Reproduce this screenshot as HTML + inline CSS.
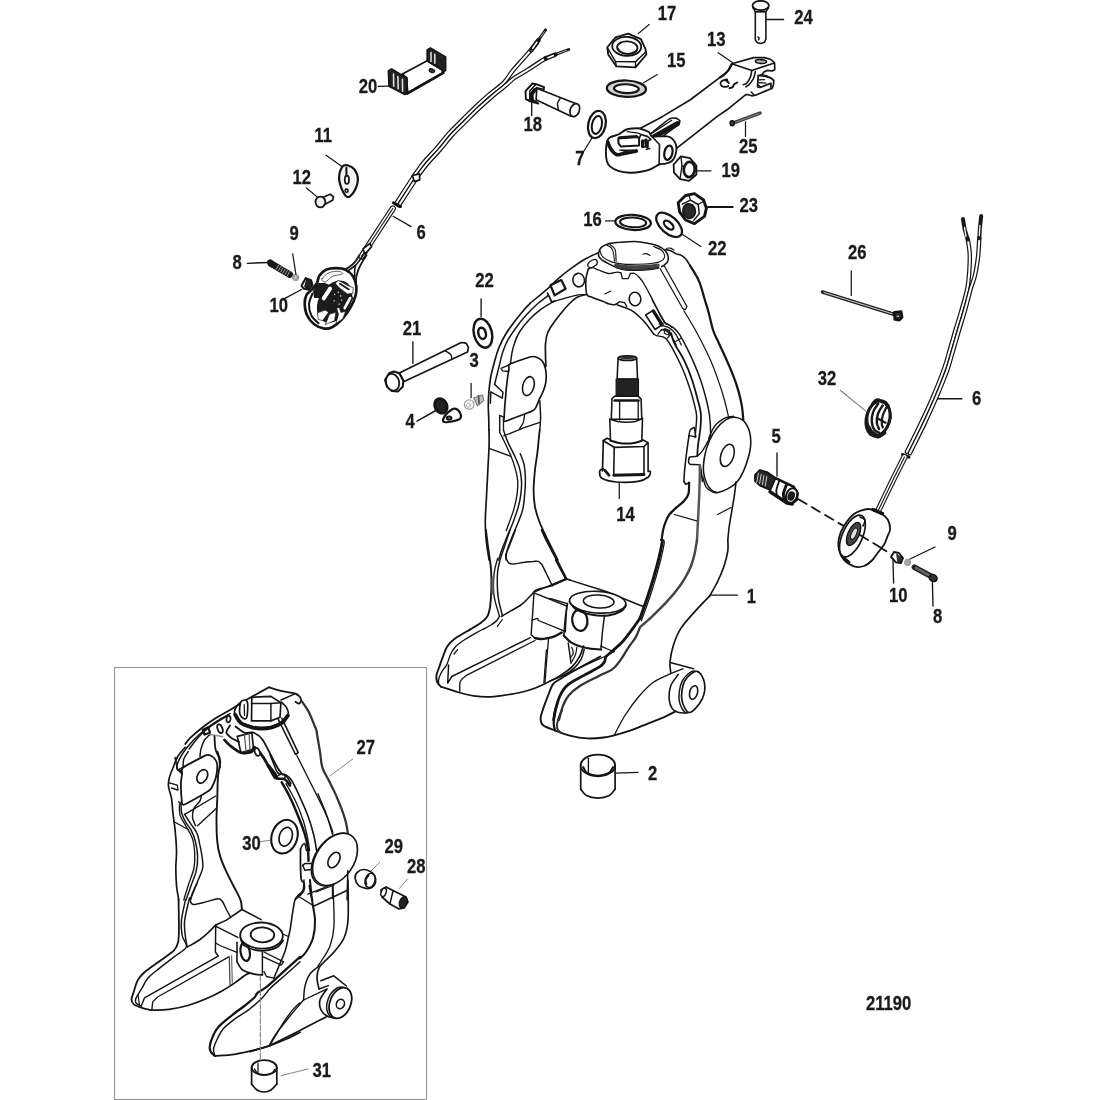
<!DOCTYPE html>
<html><head><meta charset="utf-8"><title>Gimbal Ring and Steering Lever</title>
<style>html,body{margin:0;padding:0;background:#fff}svg{display:block;will-change:transform}
text{font-family:"Liberation Sans",sans-serif;font-weight:bold;fill:#1a1a1a;stroke:#1a1a1a;stroke-width:.3px}
path,ellipse,line{stroke-linecap:round;stroke-linejoin:round}</style></head>
<body><svg width="1100" height="1100" viewBox="0 0 1100 1100">
<rect width="1100" height="1100" fill="#fff"/>
<!-- p10_ring_top.py -->
<path d="M598.4 253.2C598.8 252.2 599.6 248.9 601.3 247.4C603 245.8 605.4 244.6 608.5 243.7C611.7 242.9 615.8 242.6 620.2 242.3C624.5 241.9 630.4 241.4 634.7 241.5C639.1 241.7 642.5 242.3 646.4 243C650.2 243.7 654.8 244.6 658 245.9C661.2 247.2 663.6 248.9 665.3 250.7C667 252.5 667.8 255 668.2 256.8C668.5 258.7 668.1 260.6 667.5 261.9C666.8 263.2 665.5 264 664.5 264.8C663.6 265.6 662.1 266.4 661.6 266.7" fill="#fff" stroke="#141414" stroke-width="1.57"/>
<path d="M598.4 253.2C598.5 253.8 598.4 255.6 599.1 256.8C599.8 258 601 259.2 602.7 260.5C604.4 261.7 606.8 262.9 609.3 264.1C611.7 265.3 614.5 266.8 617.3 267.7C620.1 268.7 622.6 269.5 626 269.9C629.4 270.3 633.8 270.3 637.6 270.2C641.5 270.1 645.8 269.9 649.3 269.5C652.8 269.1 657.2 268.1 658.7 267.9" fill="none" stroke="#141414" stroke-width="1.57"/>
<path d="M600.1 251C600.5 252 600.8 255 602.7 256.8C604.6 258.6 608.1 260.7 611.5 261.9C614.8 263.1 618.7 263.7 623.1 264.1C627.5 264.5 633 264.3 637.6 264.2C642.2 264.1 647.2 263.9 650.7 263.5C654.2 263.1 656.7 262.7 658.7 262.1C660.8 261.4 662.1 260.8 663.1 259.7C664.1 258.6 664.8 256.9 664.5 255.4C664.3 253.8 663.5 251.7 661.6 250.3C659.8 248.8 655 247.2 653.6 246.6" fill="none" stroke="#141414" stroke-width="1.12"/>
<path d="M607.1 245.2C607.8 245.7 610.4 246.6 611.5 248.1C612.5 249.5 613.2 251.8 613.6 253.9C614.1 256 614.2 259.7 614.4 260.9" fill="none" stroke="#141414" stroke-width="1.12"/>
<path d="M609.7 244.3C610.6 245.2 614 246.7 615.1 249.5C616.2 252.4 615.9 259.5 616.1 261.5" fill="none" stroke="#141414" stroke-width="1.12"/>
<path d="M615.8 265.3C617.5 265.5 622.4 266.4 626 266.7C629.6 267 633.8 267 637.6 267C641.5 267 645.9 266.7 649.3 266.4C652.7 266.1 656.5 265.4 658 265.3" fill="none" stroke="#444" stroke-width="3.58"/>
<path d="M617.3 267.9C618.7 268.1 622.6 268.8 626 269C629.4 269.3 633.8 269.4 637.6 269.3C641.5 269.3 645.9 269 649.3 268.7C652.7 268.5 656.5 267.8 658 267.6" fill="none" stroke="#333" stroke-width="1.79"/>
<path d="M642.7 254.2C643.3 254.1 645.2 253.4 646.4 253.6C647.6 253.8 649.4 255.1 650 255.4" fill="none" stroke="#141414" stroke-width="1.12"/>
<path d="M665.3 249.5C666.4 249.8 670.1 250.6 671.8 251.3C673.5 252 673.9 252.9 675.5 253.6C677 254.3 679.5 254.3 681.3 255.4C683.1 256.4 684.9 258 686.4 259.7C687.8 261.4 689.4 264.6 690 265.5" fill="none" stroke="#141414" stroke-width="1.57"/>
<path d="M666.7 248.4C667.3 248.3 669.2 247.8 670.4 248.1C671.6 248.4 673.4 249.8 674 250.1" fill="none" stroke="#141414" stroke-width="1.12"/>
<path d="M660.2 268.7 L682.7 308.5" fill="none" stroke="#141414" stroke-width="1.23"/>
<path d="M664.5 266.3 L686.8 306.3" fill="none" stroke="#141414" stroke-width="1.23"/>
<path d="M682.7 308.5C683.2 308.6 684.7 309.8 685.3 309.5C686 309.1 686.6 306.8 686.8 306.3" fill="none" stroke="#141414" stroke-width="1.23"/>
<path d="M598.4 252.7C596.2 253.8 589.6 256.5 585.3 259C580.9 261.5 576.5 264.6 572.2 267.7C567.8 270.9 563.2 274.4 559.1 277.9C555 281.4 552.3 284.6 547.5 288.8C542.6 293.1 532.9 300.9 530 303.4" fill="none" stroke="#141414" stroke-width="1.57"/>
<path d="M551.8 302.2C555.5 301.1 567.9 297.1 573.6 295.8C579.3 294.5 583.9 294.8 586 294.6" fill="none" stroke="#141414" stroke-width="1.34"/>
<path d="M550.4 285.2 L561.3 280.1 L565.6 288.8 L554.7 295.4Z" fill="none" stroke="#141414" stroke-width="2.24"/>
<path d="M547.5 293.2 L551.8 302.2 L554.7 301.2" fill="none" stroke="#141414" stroke-width="1.79"/>
<ellipse cx="578.7" cy="280.1" rx="5.8" ry="6.8" transform="rotate(-8 578.7 280.1)" fill="#fff" stroke="#141414" stroke-width="1.57"/>
<ellipse cx="635" cy="299" rx="5.8" ry="6.8" transform="rotate(-8 635 299)" fill="#fff" stroke="#141414" stroke-width="1.57"/>
<path d="M588.2 269.2C588.9 268.9 590.8 267.6 592.5 267.7C594.2 267.8 595.7 268.9 598.4 269.9C601 270.9 605.4 273.2 608.5 273.5C611.7 273.9 615.2 272.2 617.3 272.1C619.3 272 620.3 272.7 620.9 272.8" fill="none" stroke="#141414" stroke-width="1.34"/>
<path d="M620.9 272.8 L622.4 278.6 L628.2 278.6 L630.4 273.5" fill="none" stroke="#141414" stroke-width="1.34"/>
<path d="M630.4 273.5C631.1 273.5 633.3 272.9 634.7 273.5C636.2 274.2 637.6 275.6 639.1 277.2C640.5 278.8 641.5 279.8 643.5 283C645.4 286.2 648.5 292 650.7 296.1C652.9 300.2 654.7 304.1 656.5 307.7C658.4 311.4 660.1 315.2 661.6 317.9C663.2 320.6 665.3 322.8 666 323.7" fill="none" stroke="#141414" stroke-width="1.34"/>
<path d="M588.2 269.2C587.8 270.8 586.4 275.1 586 278.6C585.6 282.2 585.8 287.5 586 290.3C586.2 293.1 586.4 294.2 587.5 295.4C588.5 296.6 590 296.6 592.5 297.5C595.1 298.5 599.9 300.1 602.7 301.2C605.5 302.3 607.3 303.5 609.3 304.1C611.2 304.7 613 304.9 614.4 304.8C615.7 304.7 616.8 303.6 617.3 303.4" fill="none" stroke="#141414" stroke-width="1.57"/>
<path d="M617.3 303.4 L619.5 301.6 L624.5 302.6 L626.7 306.3" fill="none" stroke="#141414" stroke-width="1.34"/>
<path d="M617.3 305.1C619.7 306 627.5 308 631.8 310.6C636.2 313.3 639.8 316.9 643.5 320.8C647.1 324.7 651.9 331.7 653.6 333.9" fill="none" stroke="#141414" stroke-width="1.57"/>
<path d="M588.2 263.4C588.9 262.3 591.2 260.6 592.5 260C593.9 259.4 595.5 259 596.2 259.7C596.9 260.4 597.8 262.8 596.9 264.1C596.1 265.4 592.5 267.4 591.1 267.7C589.6 268.1 588.7 267 588.2 266.3C587.7 265.5 587.5 264.4 588.2 263.4Z" fill="none" stroke="#141414" stroke-width="1.34"/>
<path d="M604.9 293.9 L610.7 291" fill="none" stroke="#141414" stroke-width="1.12"/>
<path d="M645.6 315 L652.9 310.6 L661.6 325.2 L655.1 329.5Z" fill="none" stroke="#141414" stroke-width="1.57"/>
<path d="M653.3 310.9 L662.1 324.9" fill="none" stroke="#141414" stroke-width="3.36"/>
<path d="M660.9 325.2C662.4 325.7 667.2 326.6 669.6 328.1C672.1 329.5 673.5 331.1 675.5 333.9C677.4 336.7 680.3 343.1 681.3 345" fill="none" stroke="#141414" stroke-width="1.23"/>
<path d="M661.6 329.5C662.6 329.9 665.6 330.4 667.5 331.7C669.3 333.1 671.1 335.3 672.5 337.5C674 339.8 675.6 343.7 676.2 345" fill="none" stroke="#141414" stroke-width="1.23"/>
<!-- p11_ring_right.py -->
<path d="M690 265.5C691.5 268.1 696.4 275.2 698.9 280.9C701.4 286.7 703.3 294.7 704.9 300C706.5 305.3 707.3 307.6 708.7 312.7C710.1 317.8 711.5 325.5 713.2 330.5C714.9 335.6 716.7 338.4 718.9 343.3C721.1 348.2 724.1 354.3 726.5 359.8C729 365.3 731.5 371.1 733.5 376.4C735.6 381.7 737.3 386.8 738.6 391.6C740 396.5 741 401 741.8 405.6C742.6 410.3 743.1 417.3 743.3 419.6" fill="none" stroke="#141414" stroke-width="2.24"/>
<path d="M683.9 310.8C685.5 313.5 690.2 320.9 693.5 326.7C696.7 332.6 700.5 339.5 703.6 345.8C706.8 352.2 709.9 358.5 712.5 364.9C715.2 371.3 717.5 378.1 719.5 384C721.6 389.9 723.1 394.9 724.6 400.5C726.2 406.2 728 414.9 728.7 417.7" fill="none" stroke="#141414" stroke-width="1.23"/>
<path d="M653.6 333.9C654.1 334.2 654.6 334.9 656.5 335.6C658.5 336.4 662.7 335.8 665.5 338.2C668.2 340.5 670.3 344.8 673.1 349.6C675.8 354.5 679.2 361.1 682 367.5C684.8 373.8 687.5 381.5 689.6 387.8C691.8 394.2 693.6 401 694.7 405.6C695.9 410.3 696.4 412.2 696.6 415.8C696.8 419.4 696.3 423.7 696 427.3C695.7 430.9 695.2 435.8 695 437.5" fill="none" stroke="#141414" stroke-width="1.46"/>
<path d="M671.2 333.1C671.7 334.8 672.1 338.6 674.4 343.3C676.6 347.9 681.6 354.9 684.5 361.1C687.5 367.2 690 373.6 692.2 380.2C694.4 386.8 696.5 395 697.9 400.5C699.4 406.1 700.4 408.8 700.8 413.3C701.3 417.7 700.9 421.8 700.5 427.3C700 432.8 698.4 441.6 697.9 446.4C697.4 451.1 697.4 454.3 697.3 455.9" fill="none" stroke="#141414" stroke-width="1.79"/>
<path d="M665.5 323.5C666.7 324.2 670.8 325.6 673.1 327.4C675.4 329.2 677.1 330.9 679.5 334.4C681.8 337.9 684.5 343.3 687.1 348.4C689.6 353.5 692.4 359.4 694.7 364.9C697.1 370.4 699.2 375.7 701.1 381.5C703 387.2 704.8 393.8 706.2 399.3C707.6 404.8 708.6 409 709.4 414.5C710.1 420.1 710.6 428.3 710.6 432.4C710.6 436.4 709.6 437.7 709.4 438.7" fill="none" stroke="#141414" stroke-width="1.46"/>
<path d="M675.6 341.4 L681.4 337.9" fill="none" stroke="#141414" stroke-width="1.12"/>
<path d="M652.1 300 L664.8 322.3" fill="none" stroke="#141414" stroke-width="1.23"/>
<path d="M659.1 324.2C660.2 324 663.3 322.4 665.5 322.9C667.6 323.4 670.8 326.6 671.8 327.4" fill="none" stroke="#141414" stroke-width="1.23"/>
<path d="M657.8 334.4C658.7 333.5 660.8 329.5 662.9 329.3C665 329.1 669.8 331.6 670.5 333.1C671.3 334.6 667.9 337.3 667.4 338.2" fill="none" stroke="#141414" stroke-width="1.23"/>
<path d="M664.8 328.6 L669.9 330.5 L668.6 335 L664.2 333.3Z" fill="none" stroke="#141414" stroke-width="1.12"/>
<path d="M689 435.6C689.2 434.7 689.4 431.3 690.3 429.9C691.1 428.5 693.5 427.8 694.1 427.4" fill="none" stroke="#141414" stroke-width="1.46"/>
<path d="M694.1 427.4 L696 436.9 L689 435.6" fill="none" stroke="#141414" stroke-width="1.23"/>
<path d="M689 435.6C688.6 438.6 687.2 447.5 686.5 453.5C685.7 459.4 685 466.6 684.5 471.3C684.1 475.9 684 479.8 683.9 481.5" fill="none" stroke="#141414" stroke-width="1.57"/>
<path d="M683.9 481.5 L685.8 484.3 L689.4 482.7" fill="none" stroke="#141414" stroke-width="1.57"/>
<path d="M688.7 459.2C688.9 458.8 688.5 457.5 689.9 457C691.3 456.5 695.2 457 697.3 456C699.4 455 700.9 452.8 702.4 450.9C703.8 449 705 446.7 706.2 444.5C707.4 442.4 709.2 439.2 709.7 438.2" fill="none" stroke="#141414" stroke-width="1.46"/>
<path d="M688.7 459.2C688.7 459.7 688.5 461.5 688.7 462.4C689 463.2 688.5 463.8 690.3 464.3C692 464.7 697.4 464.2 699.2 464.9C700.9 465.7 700.3 466 700.8 468.7C701.4 471.5 702.1 479.3 702.4 481.5" fill="none" stroke="#141414" stroke-width="1.46"/>
<path d="M708.7 438.2C709.8 436.1 712.3 428.8 715.1 425.5C717.8 422.1 722.2 419.4 725.3 417.8C728.3 416.3 732.2 416.4 733.5 416.2" fill="none" stroke="#141414" stroke-width="1.34"/>
<path d="M702.7 476.4C703.3 478.1 704.3 484.2 705.9 486.8C707.6 489.4 710.8 491.2 712.8 492.1C714.8 493.1 716.8 492.6 717.6 492.7" fill="none" stroke="#141414" stroke-width="1.34"/>
<path d="M734.8 417.2C737.8 417.6 741.8 418.3 744.4 421.6C747 424.9 749.8 431 750.5 436.9C751.2 442.8 750.6 449.8 748.4 457.3C746.3 464.7 742.3 475.6 737.4 481.5C732.4 487.3 723.6 491.2 718.9 492.3C714.2 493.3 711.9 491.1 709.4 487.8C706.8 484.5 704.4 477.8 703.6 472.5C702.9 467.2 703.7 461.3 704.7 456C705.6 450.7 707.3 445.4 709.4 440.7C711.4 436.1 714.1 431.6 717 428C719.9 424.4 723.6 421.1 726.5 419.3C729.5 417.5 731.8 416.8 734.8 417.2Z" fill="#fff" stroke="#141414" stroke-width="1.57"/>
<ellipse cx="727.3" cy="455.4" rx="6.4" ry="11.5" transform="rotate(18 727.3 455.4)" fill="#fff" stroke="#141414" stroke-width="1.57"/>
<path d="M699.8 464.9C699.8 466.8 699.9 471.3 699.8 476.4C699.7 481.5 699.4 489.1 699.2 495.5C698.9 501.8 698.7 507.1 698.3 514.5C697.9 522 697.2 535.8 697 540" fill="none" stroke="#555" stroke-width="2.46"/>
<path d="M689.1 482.7C689 484.6 689.3 491 688.4 494.2C687.4 497.4 685.4 499.5 683.3 501.8C681.2 504.2 678 506.1 675.6 508.2C673.3 510.3 671 512.2 669.3 514.5C667.6 516.9 666.5 519.4 665.5 522.2C664.4 524.9 663.5 528.1 662.9 531.1C662.3 534.1 661.8 538.5 661.6 540" fill="none" stroke="#141414" stroke-width="2.24"/>
<path d="M687.3 497.4C685.8 498.8 680.9 503.2 678.2 505.9C675.5 508.6 672.3 512.3 671.2 513.5" fill="none" stroke="#141414" stroke-width="1.12"/>
<path d="M674.4 514.5 L696.6 520.9" fill="none" stroke="#141414" stroke-width="1.23"/>
<path d="M736.1 481.7C735.8 484.2 734.9 491.7 734.2 496.7C733.4 501.8 732.5 506.9 731.6 512C730.8 517.1 729.7 522.6 729.1 527.3C728.5 531.9 728 537.9 727.8 540" fill="none" stroke="#141414" stroke-width="1.57"/>
<path d="M717.6 514.5 L731 507.5" fill="none" stroke="#141414" stroke-width="1.23"/>
<!-- p12_ring_left.py -->
<path d="M530 303.5C529.1 304.5 527.2 306.3 524.5 309.3C521.9 312.4 517.5 317.6 514.4 321.8C511.2 326 508 330.3 505.5 334.5C502.9 338.8 500.9 342.8 499.1 347.3C497.3 351.7 496 356.4 494.6 361.3C493.3 366.2 491.8 371.5 490.8 376.5C489.9 381.6 489.3 387.2 488.9 391.8C488.5 396.5 488.3 400.3 488.3 404.5C488.2 408.8 488.5 413 488.7 417.3C488.8 421.5 488.9 427.9 488.9 430" fill="none" stroke="#141414" stroke-width="1.68"/>
<path d="M548.1 295.7C546.3 297.1 541 300.7 537.3 304C533.6 307.3 529.4 311.4 525.8 315.5C522.2 319.5 518.7 323.9 515.6 328.2C512.6 332.4 509.6 336.7 507.4 340.9C505.1 345.2 503.7 349.4 502.3 353.6C500.9 357.9 500.2 362.1 499.1 366.4C498 370.6 496.7 376.1 495.9 379.1C495.2 382.1 494.8 383.3 494.6 384.2" fill="none" stroke="#141414" stroke-width="1.46"/>
<path d="M494.6 384.2 L501 390.5 L502.9 392.1 L502.3 398.2 L490.8 391.8 L490.4 403.3" fill="none" stroke="#141414" stroke-width="1.46"/>
<path d="M552.5 302.1C550.6 303.3 544.9 306.2 541.1 309.1C537.3 312 533.2 315.5 529.6 319.3C526 323.1 522 328 519.5 332C516.9 336 515.6 339.8 514.4 343.5C513.1 347.1 512.5 350.3 511.8 353.6C511.2 357 510.8 361.9 510.5 363.6" fill="none" stroke="#141414" stroke-width="1.46"/>
<path d="M585.6 294.5C584.2 295 579.5 296 576.7 297.6C574 299.2 571.8 301.2 569.1 304C566.3 306.8 562.9 310.8 560.2 314.2C557.4 317.6 554.7 321.2 552.5 324.4C550.4 327.5 548.6 330.1 547.5 333.3C546.3 336.5 545.9 339.6 545.5 343.5C545.2 347.3 545.5 352.4 545.5 356.2C545.6 360 545.9 364.7 545.9 366.4" fill="none" stroke="#141414" stroke-width="1.68"/>
<path d="M509.9 364.1C512.5 362.7 527.7 357.6 530.9 356.8C534.1 356 535.9 356.9 537.3 357.5C538.6 358 541.4 359.9 542.4 361.3C543.3 362.6 545.1 366.5 545.5 368.9C546 371.3 546.2 379 545.9 381.6C545.6 384.3 543.8 389.7 543 391.8C542.2 393.9 540 397.7 539.2 399.5C538.4 401.2 536.8 405.8 536 407.1C535.2 408.4 535.7 409.3 532.2 410.9C528.6 412.5 508.7 420.3 505.5 421.1C502.2 421.8 504.2 419.9 504.2 417.3C504.2 414.6 505.1 402.6 505.5 398.2C505.8 393.7 506.9 382.5 507.4 379.1C507.8 375.7 508.7 370.7 509 368.9C509.3 367.2 507.4 365.5 509.9 364.1Z" fill="#fff" stroke="#141414" stroke-width="1.68"/>
<path d="M509.9 364.5 L501 368.3 L502.3 370.8 L508.6 371.5" fill="none" stroke="#141414" stroke-width="1.34"/>
<ellipse cx="528.4" cy="386.1" rx="5.6" ry="9.7" transform="rotate(15 528.4 386.1)" fill="#fff" stroke="#141414" stroke-width="1.57"/>
<path d="M504.2 417.3 L499.7 415.4 L499.7 430" fill="none" stroke="#141414" stroke-width="1.46"/>
<path d="M503.5 418.8 L503.5 430" fill="none" stroke="#141414" stroke-width="1.34"/>
<path d="M524.5 415.4C524.3 416.5 524.1 420.1 523.3 422.4C522.4 424.6 520.1 427.7 519.5 428.7" fill="none" stroke="#141414" stroke-width="1.34"/>
<path d="M521.4 428.7 L539.8 422.4" fill="none" stroke="#141414" stroke-width="1.34"/>
<path d="M539.8 400.7C539.9 403.5 540.6 412.4 540.6 417.3C540.6 422.2 539.9 427.9 539.8 430" fill="none" stroke="#141414" stroke-width="1.46"/>
<!-- p13_ring_lowleft.py -->
<path d="M489 430.1C489 432.6 489.3 438.6 489.1 445.5C488.9 452.3 488.2 462.4 487.8 470.9C487.4 479.4 487 487.9 486.5 496.4C486.1 504.8 485.3 514.4 485.3 521.8C485.2 529.2 485.7 534.5 486.3 540.9C486.9 547.3 488.6 556.8 489.1 560" fill="none" stroke="#141414" stroke-width="1.68"/>
<path d="M499.7 430.1C499.7 430.5 499.3 431.2 499.9 432.7C500.5 434.2 501.3 435.3 503.1 439.1C504.9 442.9 508.7 450.8 510.7 455.6C512.7 460.5 514 464.1 515.2 468.4C516.3 472.6 517.4 476.8 517.7 481.1C518 485.3 517.7 489.2 517.1 493.8C516.5 498.5 515.2 504.4 513.9 509.1C512.6 513.8 510.7 518.2 509.5 521.8C508.2 525.4 506.8 529.2 506.3 530.7" fill="none" stroke="#141414" stroke-width="1.34"/>
<path d="M503.5 430.1C503.6 430.5 503.6 430.6 504.4 432.7C505.1 434.9 506.5 439.1 508.2 442.9C509.9 446.7 512.6 451.4 514.5 455.6C516.5 459.9 518.5 464.1 519.6 468.4C520.8 472.6 521.3 476.8 521.5 481.1C521.8 485.3 521.4 489.6 520.9 493.8C520.4 498.1 519.6 501.9 518.4 506.5C517.1 511.2 515.2 516.7 513.3 521.8C511.4 526.9 508.8 532.4 506.9 537.1C505 541.8 503.2 546 501.8 549.8C500.4 553.6 499.2 558.3 498.6 560" fill="none" stroke="#141414" stroke-width="1.46"/>
<path d="M520.3 453.7C520.9 455.5 523.2 460.4 524.1 464.5C524.9 468.7 525.3 473.7 525.4 478.5C525.5 483.4 525.2 488.7 524.7 493.8C524.3 498.9 523.9 504.4 522.8 509.1C521.8 513.8 520.2 517.2 518.4 521.8C516.6 526.5 513.9 532.2 512 537.1C510.1 542 507.9 547.3 506.9 551.1C505.9 554.9 506.2 558.5 506 560" fill="none" stroke="#141414" stroke-width="1.46"/>
<path d="M489.7 448.6 L510.7 456.3" fill="none" stroke="#141414" stroke-width="1.34"/>
<path d="M503.7 435.9 L521.4 428.8" fill="none" stroke="#141414" stroke-width="1.34"/>
<path d="M539.9 430.1C539.8 430.5 539.8 429.1 539.4 432.7C539 436.4 538.2 445.5 537.5 451.8C536.7 458.2 535.5 464.5 534.9 470.9C534.3 477.3 533.6 484.1 533.6 490C533.6 495.9 534 501.2 534.9 506.5C535.9 511.8 537.5 516.7 539.4 521.8C541.3 526.9 543.3 530.7 546.4 537.1C549.4 543.5 555.9 556.2 557.8 560" fill="none" stroke="#141414" stroke-width="1.79"/>
<path d="M485.9 530C486.3 533 487.3 541.8 488.2 548.2C489 554.5 490.4 562.1 490.9 568.2C491.4 574.2 491.4 579.5 491.4 584.5C491.4 589.5 491.2 593.9 490.9 598.2C490.6 602.4 490.2 606.8 489.5 610C488.9 613.2 488.3 615.2 486.8 617.3C485.4 619.4 483.7 620.7 480.9 622.7C478.1 624.8 471.8 628.4 470 629.5" fill="none" stroke="#141414" stroke-width="1.9"/>
<path d="M510 530C509.1 532.7 506.2 541.4 504.5 546.4C502.9 551.4 501.1 555.9 500 560C498.9 564.1 498.2 566.8 497.7 570.9C497.3 575 497.2 580.2 497.3 584.5C497.3 588.9 497.7 593.3 498.2 597.3C498.7 601.2 499.7 605.1 500.5 608.2C501.2 611.3 502.2 614.6 502.5 615.9" fill="none" stroke="#141414" stroke-width="1.46"/>
<path d="M515.5 530C514.6 532.2 510.4 543.1 509.1 546.4C507.8 549.6 506.3 552.8 505.9 554.5C505.5 556.2 505.9 557.9 506.4 559.1C506.8 560.2 508.2 562.5 509.1 563.2C509.9 563.8 510.7 564.2 512.7 564.1C514.8 564 521.8 562.6 524.5 562.3C527.3 561.9 531.8 561.5 533.6 561.4C535.5 561.2 537.1 560.9 538.2 561.4C539.3 561.8 540.8 563.2 541.8 564.5C542.8 565.9 544.5 569.9 545.5 571.8C546.4 573.8 548.2 577.3 549.1 579.1C550 580.9 551.8 584.6 552.3 585.5" fill="none" stroke="#141414" stroke-width="1.46"/>
<path d="M497.7 558.2C497.3 559.8 495.7 564.5 495 568.2C494.3 571.8 493.8 575.8 493.6 580C493.4 584.2 493.5 589.8 493.8 593.6C494.1 597.4 494.8 600 495.5 602.7C496.1 605.5 497 607.7 497.7 610C498.4 612.3 499.2 615.3 499.5 616.4" fill="none" stroke="#141414" stroke-width="1.34"/>
<path d="M492.5 577.3 L492.6 593.6" fill="none" stroke="#666" stroke-width="2.24"/>
<path d="M499.5 616.4C499 617.1 497.8 619.5 496.4 620.9C494.9 622.3 493.2 623.6 490.9 625C488.6 626.4 484.1 628.8 482.7 629.5" fill="none" stroke="#141414" stroke-width="1.46"/>
<path d="M502.3 619.5 L497.3 626.4" fill="none" stroke="#141414" stroke-width="1.23"/>
<path d="M501.4 616.4C503 615.5 507.7 612.8 510.9 610.9C514.2 609 518 607.1 520.9 605C523.8 602.9 525.9 600.5 528.2 598.2C530.5 595.9 533.5 592.5 534.5 591.4" fill="none" stroke="#141414" stroke-width="1.57"/>
<path d="M541.8 530C542.7 532 545.2 537.6 547.3 541.8C549.4 546.1 552.3 551.1 554.5 555.5C556.8 559.8 558.9 564.2 560.9 568.2C562.9 572.1 565.5 577.3 566.4 579.1" fill="none" stroke="#141414" stroke-width="2.24"/>
<path d="M566.4 579.1 L570 579.8" fill="none" stroke="#141414" stroke-width="1.46"/>
<path d="M552.3 585.6 L566.4 579.3" fill="none" stroke="#141414" stroke-width="1.46"/>
<path d="M534.5 591.4C535 591.1 534.3 590.5 537.3 589.5C540.2 588.6 549.8 586.3 552.3 585.6" fill="none" stroke="#141414" stroke-width="1.46"/>
<path d="M470 629.6C467.5 631.1 458.5 636 454.7 638.7C451 641.5 449.4 643.1 447.5 646C445.5 648.9 444.4 652.8 443.1 656.2C441.8 659.6 440.5 663.2 439.5 666.4C438.4 669.5 437 672.5 436.5 675.1C436.1 677.6 436.3 679.7 437 681.6C437.7 683.6 440.3 685.9 440.9 686.7" fill="none" stroke="#141414" stroke-width="1.9"/>
<path d="M482.7 629.6C482.1 629.8 482.4 629.4 479.5 631C476.5 632.7 468.9 636.8 464.9 639.5C460.9 642.1 457.9 644.2 455.5 646.7C453 649.3 451.8 651.7 450.4 654.7C448.9 657.8 448.1 662.2 446.7 664.9C445.4 667.6 443.6 668.5 442.4 670.7C441.1 672.9 439.7 675.8 439 678C438.4 680.2 438.5 683.1 438.4 684.1" fill="none" stroke="#141414" stroke-width="1.34"/>
<path d="M457.6 649.6 L454 654" fill="none" stroke="#141414" stroke-width="1.23"/>
<path d="M440.9 686.7C443.9 687.7 453.6 691 459.1 692.5C464.5 694.1 468.8 695.2 473.6 695.9C478.5 696.6 483.3 697 488.2 696.9C493 696.8 497.4 696.2 502.7 695.5C508.1 694.7 514.8 693.8 520.2 692.5C525.5 691.3 530.4 689.8 534.7 688.2C539.1 686.6 542 685.3 546.4 683.1C550.7 680.9 556.5 677.9 560.9 675.1C565.3 672.3 569.4 669.5 572.5 666.4C575.7 663.2 578 659.6 579.8 656.2C581.6 652.8 582.8 647.7 583.5 646" fill="none" stroke="#141414" stroke-width="1.68"/>
<path d="M448.6 664.9 L447.7 683.1 L451.8 676.5 L530.4 637.6" fill="none" stroke="#141414" stroke-width="1.46"/>
<path d="M459.8 691.4C459.9 689.8 459.2 684.3 460.3 681.6C461.3 679 465.3 676.4 466.4 675.4" fill="none" stroke="#141414" stroke-width="1.34"/>
<path d="M466.4 675.4 L535 640.5" fill="none" stroke="#141414" stroke-width="1.34"/>
<!-- p14_ring_box.py -->
<path d="M534 592.5 L532.5 615.5 L531.1 634.7 L535 638.1" fill="none" stroke="#141414" stroke-width="1.46"/>
<path d="M534 592.2 L566.7 578.4" fill="none" stroke="#141414" stroke-width="1.46"/>
<path d="M534 592.9 L566.7 606" fill="none" stroke="#141414" stroke-width="1.46"/>
<path d="M566.7 606 L565.3 631.7" fill="none" stroke="#141414" stroke-width="1.46"/>
<path d="M531.8 620.1 L537.6 618.4 L538.4 620.5 L560.9 629.7 L565.3 631.7" fill="none" stroke="#141414" stroke-width="1.34"/>
<path d="M535 638.1C535.9 638.3 538.4 639 540.5 639C542.7 639 545.4 638.6 547.8 638.1C550.2 637.7 552.8 637 555.1 636.1C557.4 635.2 560.5 633.2 561.6 632.6" fill="none" stroke="#141414" stroke-width="2.46"/>
<path d="M548.5 639 L546.4 663.5 L544.9 683.1" fill="none" stroke="#141414" stroke-width="1.34"/>
<path d="M555.8 560 L566 578.9" fill="none" stroke="#141414" stroke-width="2.02"/>
<path d="M566 578.9 L550 585.9" fill="none" stroke="#141414" stroke-width="1.46"/>
<path d="M566 578.9 L605.3 591.3 L643.1 606.5" fill="none" stroke="#141414" stroke-width="1.46"/>
<path d="M550 598.5 L567.5 603.6" fill="none" stroke="#141414" stroke-width="1.34"/>
<path d="M567.5 603.6C567.1 606.1 565.9 612.8 565.3 618.2C564.7 623.5 564.1 632.7 563.8 635.6" fill="none" stroke="#141414" stroke-width="1.57"/>
<path d="M563.8 635.6C565.2 636.8 568.1 640.8 571.8 642.9C575.6 645 581.5 646.9 586.4 648C591.2 649.1 598.5 649.2 600.9 649.5" fill="none" stroke="#141414" stroke-width="2.24"/>
<path d="M604.5 615.3C604.2 618.2 603 627 602.4 632.7C601.8 638.4 601.2 646.7 600.9 649.5" fill="none" stroke="#141414" stroke-width="1.46"/>
<ellipse cx="579.8" cy="620.4" rx="7.6" ry="10.5" transform="rotate(-8 579.8 620.4)" fill="#fff" stroke="#141414" stroke-width="2.24"/>
<path d="M569.6 601.5C570.7 602.8 572.7 607.3 576.2 609.5C579.7 611.6 585.4 613.5 590.7 614.5C596.1 615.6 603.1 616.1 608.2 615.6C613.3 615 618.3 612.9 621.3 611.2C624.2 609.5 625.2 606.4 625.9 605.4" fill="none" stroke="#141414" stroke-width="2.02"/>
<ellipse cx="597.7" cy="602.2" rx="28.2" ry="10.8" transform="rotate(4 597.7 602.2)" fill="#fff" stroke="#141414" stroke-width="1.68"/>
<ellipse cx="598.7" cy="601.5" rx="15.3" ry="6.5" transform="rotate(3 598.7 601.5)" fill="#fff" stroke="#141414" stroke-width="1.57"/>
<path d="M600.9 646.1 L607.5 649 L614 651.9" fill="none" stroke="#141414" stroke-width="1.34"/>
<path d="M568.2 642.9 L571.1 663.3" fill="none" stroke="#141414" stroke-width="1.46"/>
<path d="M571.8 647.3C572.1 648.2 573.5 651.3 573.3 653.1C573 654.8 570.8 657 570.4 657.7" fill="none" stroke="#141414" stroke-width="1.23"/>
<path d="M576.9 647.3C576.7 648.5 576.3 652.1 575.5 654.5C574.6 657 572.4 660.6 571.8 661.8" fill="none" stroke="#141414" stroke-width="1.23"/>
<path d="M584.2 649.5C583.7 651 582.8 655.9 581.3 658.9C579.7 661.9 577.5 665 574.7 667.6C571.9 670.3 568.7 672.7 564.5 674.9C560.4 677.1 552.4 680 550 681" fill="none" stroke="#141414" stroke-width="1.46"/>
<path d="M550 681 L564.5 674.9 L586.4 664.7 L606 656 L614 651.3" fill="none" stroke="#141414" stroke-width="1.34"/>
<path d="M640 618.3C638.8 620 635.8 624.5 632.9 628.4C630 632.2 626.1 637.7 622.7 641.5C619.3 645.2 615.3 648.4 612.5 650.9C609.8 653.5 607.3 654.9 606 656.7C604.7 658.5 605.6 660.1 604.5 661.8C603.5 663.5 603.2 664.5 599.5 666.9C595.7 669.3 587.3 673.3 582 676.4C576.7 679.4 571.1 681.9 567.5 685.1C563.8 688.2 562.1 691.4 560.2 695.3C558.2 699.2 556.9 704.2 555.8 708.4C554.7 712.5 554 718.1 553.6 720" fill="none" stroke="#141414" stroke-width="2.8"/>
<path d="M640 627.3C639.3 629 637.7 633.8 635.8 637.1C633.9 640.4 631 643.6 628.5 647.3C626.1 650.9 623.9 655.3 621.3 658.9C618.6 662.5 616.4 666.2 612.5 669.1C608.7 672 603.6 673.5 598 676.4C592.4 679.3 583.9 683.4 579.1 686.5C574.2 689.7 571.6 692.1 568.9 695.3C566.2 698.4 564.7 701.3 563.1 705.5C561.4 709.6 559.7 717.6 559 720" fill="none" stroke="#333" stroke-width="2.24"/>
<path d="M710 595.6C707.6 598.2 700.3 605.5 695.5 610.9C690.6 616.4 684.5 622.8 680.9 628.4C677.3 633.9 675.5 638.8 673.6 644.4C671.8 649.9 670.5 657.2 670 661.8C669.5 666.5 670.6 670.5 670.7 672.3" fill="none" stroke="#141414" stroke-width="1.68"/>
<path d="M600.4 656.5C596.8 658.5 585.9 664.2 579.1 668C572.3 671.8 563.8 676.7 559.5 679.5C555.1 682.2 554.8 681.6 552.9 684.4C551 687.1 549.6 691.7 548 695.8C546.4 699.9 544.3 705.1 543.1 708.9C541.9 712.7 540.6 716 540.6 718.7C540.6 721.5 540.8 723.4 543.1 725.3C545.4 727.2 549.9 728.4 554.5 730.2C559.2 732 565.5 734.5 570.9 735.9C576.4 737.3 581.8 738.1 587.3 738.4C592.7 738.6 599 738.1 603.6 737.5C608.3 737 610.5 736.3 615.1 735.1C619.7 733.9 626 732.1 631.5 730.2C636.9 728.3 642.4 725.8 647.8 723.6C653.3 721.5 659.5 719.1 664.2 717.1C668.8 715 673.7 712.3 675.6 711.4" fill="none" stroke="#141414" stroke-width="1.9"/>
<path d="M538.5 732.6C539.8 729.2 543.7 717.8 546.4 712.2C549 706.6 553.1 698.8 554.5 699.1C556 699.4 555 710.1 554.9 714.1C554.8 718.2 553.9 721 553.9 723.6C553.8 726.3 554.4 729.1 554.5 730.2" fill="none" stroke="none" stroke-width="0.01"/>
<path d="M534.1 740C534.5 738.1 535.2 732.4 536.5 728.5C537.9 724.7 540.1 720.4 542.3 717.1C544.5 713.8 547 711.4 549.6 708.9C552.2 706.5 556.5 703.5 557.8 702.4" fill="none" stroke="none" stroke-width="0.01"/>
<path d="M543.4 731.8C543.9 731 544.5 729.9 546.4 726.9C548.2 723.9 552.6 717.9 554.5 713.8C556.5 709.7 556.5 706.2 557.8 702.4C559.2 698.5 560.8 693.9 562.7 690.9C564.6 687.9 565.7 687.1 569.3 684.4C572.8 681.6 581.5 676.2 584 674.5" fill="none" stroke="none" stroke-width="0.01"/>
<path d="M557.8 702.4C557.3 704.3 555.2 710.3 554.5 713.8C553.9 717.4 553.7 720.9 553.7 723.6C553.8 726.4 554.7 729.4 554.9 730.5" fill="none" stroke="#141414" stroke-width="2.24"/>
<path d="M561.9 710.5C561.2 712.2 558.6 717.4 557.8 720.4C557 723.4 556.6 726.4 557.2 728.5C557.7 730.6 560.4 732.2 561.1 733" fill="none" stroke="#333" stroke-width="2.02"/>
<path d="M614.3 735.1C616 731.8 621 721.7 624.9 715.5C628.9 709.2 633.4 702.9 638 697.5C642.6 692 647.3 686.7 652.7 682.7C658.2 678.8 665.7 676 670.7 673.7C675.8 671.4 681 669.6 683 668.8" fill="none" stroke="#141414" stroke-width="1.34"/>
<path d="M671.1 662.8 L693.6 668.8" fill="none" stroke="#141414" stroke-width="1.46"/>
<path d="M678.1 674.5C676.9 676.5 672.2 681.9 670.7 686C669.2 690.1 668.8 695.3 669.1 699.1C669.4 702.9 670.9 706.7 672.4 708.9C673.9 711.1 675.9 711.5 678.1 712.2C680.3 712.9 684.2 712.9 685.5 713" fill="none" stroke="#141414" stroke-width="1.57"/>
<path d="M694.5 670.9C697.7 671.2 700.9 678 701.8 682.7C702.8 687.4 702.6 694 700.2 699.1C697.7 704.1 690.6 712.7 687.1 713C683.6 713.3 680.1 706 679.2 700.7C678.4 695.4 679.6 686.1 682.2 681.1C684.7 676.1 691.2 670.7 694.5 670.9Z" fill="#fff" stroke="#141414" stroke-width="1.46"/>
<path d="M696.9 671.3C700.2 671.5 703.6 678.1 704.4 682.7C705.3 687.4 704.6 694.1 702.1 699.1C699.7 704.1 692.9 712.4 689.5 712.5C686.2 712.6 682.7 705.1 681.9 699.9C681 694.7 682.1 685.9 684.6 681.1C687.1 676.3 693.6 671 696.9 671.3Z" fill="#fff" stroke="#141414" stroke-width="1.68"/>
<ellipse cx="693.6" cy="692.5" rx="3.9" ry="6.9" transform="rotate(15 693.6 692.5)" fill="#fff" stroke="#141414" stroke-width="1.57"/>
<path d="M546.4 650 L543.9 682.7" fill="none" stroke="#141414" stroke-width="1.34"/>
<!-- p15_ring_rightlow.py -->
<path d="M661.6 540C661.7 540.3 662.7 539.1 662.3 542C661.8 544.9 660.5 551.5 659.1 557.3C657.7 563 655.9 569.8 654 576.4C652.1 582.9 650 589.7 647.6 596.7C645.3 603.7 641.3 614.8 640 618.4" fill="none" stroke="#141414" stroke-width="3.02"/>
<path d="M663.7 540C663.8 540.5 664.6 540.2 664.2 543.3C663.7 546.4 662.4 552.8 661 558.5C659.6 564.3 657.8 571.1 655.9 577.6C654 584.2 652 590.8 649.5 598C647.1 605.2 642.7 617.1 641.3 620.9" fill="none" stroke="#141414" stroke-width="1.23"/>
<path d="M697 540C696.6 542.2 695.7 549.1 694.7 553.5C693.7 557.8 692.6 561.9 690.9 566.2C689.2 570.4 687.1 574.7 684.5 578.9C682 583.2 678.8 587.6 675.6 591.6C672.5 595.7 669.3 599.1 665.5 603.1C661.6 607.1 657 611.8 652.7 615.8C648.5 619.8 642.1 625.4 640 627.3" fill="none" stroke="#444" stroke-width="2.46"/>
<path d="M727.8 540C727.8 541.8 728.5 546.5 727.8 550.9C727.2 555.3 725.7 561.1 724 566.2C722.3 571.3 720 576.6 717.6 581.5C715.3 586.3 711.3 593.1 710 595.5" fill="none" stroke="#141414" stroke-width="1.68"/>
<line x1="711.3" y1="595.2" x2="737.4" y2="595.2" stroke="#141414" stroke-width="1.34"/>
<!-- p20_part14.py -->
<path d="M618.1 358.2 L617.1 379 L637.5 379 L636.7 358.2Z" fill="#fff" stroke="#141414" stroke-width="1.57"/>
<ellipse cx="627.4" cy="358.2" rx="9.3" ry="2.3" fill="#fff" stroke="#141414" stroke-width="1.68"/>
<ellipse cx="627.4" cy="358" rx="7" ry="1.2" fill="#333" stroke="#141414" stroke-width="0.56"/>
<path d="M616.1 379 L638.5 379 L638.5 396.4 L616.1 396.4Z" fill="#222" stroke="#141414" stroke-width="1.12"/>
<path d="M612 398.5 L614.9 396.1 L638.2 396.1 L641.1 399.1 L641.8 419.3 L611.3 419.3Z" fill="#fff" stroke="#141414" stroke-width="1.57"/>
<path d="M614.6 400.5 L638.5 400.5" fill="none" stroke="#141414" stroke-width="2.69"/>
<path d="M619.6 401.1 L619.6 420" fill="none" stroke="#141414" stroke-width="1.34"/>
<path d="M638.2 401.1 L638.2 419.7" fill="none" stroke="#141414" stroke-width="1.34"/>
<path d="M609.8 419.3C611.2 419.6 615 420.9 617.8 421.5C620.6 422 623.6 422.3 626.5 422.3C629.5 422.3 632.6 422.1 635.3 421.5C637.9 420.8 641.3 419 642.5 418.5" fill="none" stroke="#141414" stroke-width="1.57"/>
<path d="M609.8 419.3 L610.5 440.7" fill="none" stroke="#141414" stroke-width="1.57"/>
<path d="M642.5 418.5 L641.8 440.7" fill="none" stroke="#141414" stroke-width="1.57"/>
<path d="M610.5 440.7C611.8 441 615.2 442.2 617.8 442.7C620.5 443.2 623.6 443.6 626.5 443.6C629.5 443.6 632.7 443.2 635.3 442.7C637.8 442.2 640.7 441 641.8 440.7" fill="none" stroke="#141414" stroke-width="2.02"/>
<path d="M610.5 439.8 L606.9 438.3 L603.3 440.7 L614.2 447.3 L644 446.5 L648.1 442.7 L642.5 439.8" fill="none" stroke="#141414" stroke-width="1.68"/>
<path d="M603.3 440.7 L602.5 470.9" fill="none" stroke="#141414" stroke-width="1.68"/>
<path d="M614.2 447.6 L613.7 475.3" fill="none" stroke="#141414" stroke-width="1.57"/>
<path d="M644 446.9 L644 474.5" fill="none" stroke="#141414" stroke-width="1.57"/>
<path d="M648.1 443.3 L648.1 471.6" fill="none" stroke="#141414" stroke-width="1.57"/>
<path d="M613.7 475.3 L644 474.5" fill="none" stroke="#141414" stroke-width="2.91"/>
<path d="M603.3 468.9C602.9 469 601.7 469 601.1 469.5C600.5 469.9 599.5 470.2 599.6 471.6C599.8 473.1 599 476.5 601.8 478.2C604.6 479.9 610.3 481.4 616.4 482C622.4 482.5 632.8 482.2 638.2 481.4C643.5 480.6 646.3 478.6 648.4 477C650.4 475.4 650.5 472.8 650.5 471.8C650.5 470.8 648.7 471.1 648.4 470.9" fill="none" stroke="#141414" stroke-width="1.68"/>
<path d="M604.7 470.2 L609.1 475.3" fill="none" stroke="#141414" stroke-width="2.69"/>
<line x1="619.3" y1="483.3" x2="619.3" y2="498.5" stroke="#141414" stroke-width="1.23"/>
<!-- p21_part2.py -->
<path d="M580.7 765.4 L580.7 789.1" fill="none" stroke="#141414" stroke-width="1.68"/>
<path d="M615.1 765.4 L615.1 789.1" fill="none" stroke="#141414" stroke-width="1.68"/>
<path d="M580.7 789.1C581.7 790.2 583.6 794.1 586.5 795.6C589.3 797.1 594.1 798.1 597.9 798.1C601.7 798.1 606.5 797.1 609.4 795.6C612.2 794.1 614.1 790.2 615.1 789.1" fill="none" stroke="#141414" stroke-width="1.68"/>
<ellipse cx="597.9" cy="765.4" rx="17.2" ry="10.8" fill="#fff" stroke="#141414" stroke-width="1.9"/>
<path d="M583.2 767C583.9 768 584.8 771.6 587.3 773.1C589.7 774.5 594.4 775.7 597.9 775.7C601.5 775.7 606 774.5 608.5 773.1C611.1 771.6 612.4 768 613.1 767" fill="none" stroke="#141414" stroke-width="2.02"/>
<path d="M588.4 758.3 L588.4 773.1" fill="none" stroke="#141414" stroke-width="1.34"/>
<line x1="615.9" y1="773.1" x2="638" y2="772.4" stroke="#141414" stroke-width="1.34"/>
<!-- p30_lever.py -->
<path d="M675.5 149.1 L691.8 136.4 L717.3 116.4 L727 109.8 L745.5 94.9 L747.4 94.5 L751.8 95.8 L755.6 95.2 L772.2 88.2 L773.5 84.4 L773.8 80.5 L770.9 78 L764.5 76.1 L758.2 75.5 L762 74.8 L763.9 72 L767.1 70.4 L772.2 71 L774.7 69.7 L774.7 65.3 L774.4 62.7 L770.9 59.5 L764.5 57.6 L753.7 57.6 L731.8 63.7 L728.3 70.4 L723.8 74.8 L720 77.4 L690 100 L662.7 116.4 L639.1 129.1" fill="#fff" stroke="#141414" stroke-width="1.68"/>
<path d="M731.8 63.7 L751.8 70.4 L774.4 63" fill="none" stroke="#141414" stroke-width="1.57"/>
<path d="M731.8 64.3C731.2 65.3 729.6 68.6 728.3 70.4C726.9 72.1 725.2 73.7 723.8 74.8C722.4 76 720.6 76.9 720 77.4" fill="none" stroke="#141414" stroke-width="2.24"/>
<path d="M751.8 70.4C751.6 71.4 751.4 74.6 750.5 76.7C749.7 78.8 747.9 81.8 746.7 83.1C745.5 84.4 743.8 84.4 743.2 84.7" fill="none" stroke="#141414" stroke-width="1.57"/>
<path d="M755.3 71.6C755.1 72.7 754.6 76 753.7 78C752.8 80 751.2 82.2 749.9 83.7C748.6 85.2 746.5 86.4 745.8 86.9" fill="none" stroke="#141414" stroke-width="1.57"/>
<ellipse cx="761" cy="61.5" rx="5.6" ry="1.9" transform="rotate(3 761 61.5)" fill="#bbb" stroke="#141414" stroke-width="1.57"/>
<path d="M758.2 75.5 L757.5 87 L760.7 87.3 L770.9 83.2 L771 88.2" fill="none" stroke="#141414" stroke-width="1.68"/>
<path d="M758.8 79.9 L764.5 79.6" fill="none" stroke="#141414" stroke-width="1.34"/>
<path d="M758.8 82.6 L765.8 83.1" fill="none" stroke="#141414" stroke-width="1.34"/>
<path d="M758.2 84.7 L760.7 87" fill="none" stroke="#141414" stroke-width="1.34"/>
<path d="M762 74.8C762.6 74.9 764.3 74.9 765.8 75.5C767.3 76 770.1 77.6 770.9 78" fill="none" stroke="#141414" stroke-width="1.34"/>
<path d="M751.2 92 L753.7 94.5" fill="none" stroke="#141414" stroke-width="1.46"/>
<path d="M728.9 83.1C728.5 82.7 727.3 81.1 726.4 80.7C725.4 80.2 724.1 80.1 723.2 80.4C722.2 80.7 721 81.6 720.6 82.5C720.3 83.3 720.5 84.9 721.3 85.6C722 86.4 723.9 86.9 725.1 86.9C726.3 87 727.7 86.1 728.3 86" fill="none" stroke="#141414" stroke-width="1.79"/>
<path d="M724.5 79.9 L727 79.3 L727.6 81.8" fill="none" stroke="#141414" stroke-width="1.79"/>
<path d="M737.2 82.5C736.7 82.8 734.7 83.6 734 84.4C733.3 85.1 733.5 86.3 732.7 86.9C732 87.5 730.1 88 729.5 88.2" fill="none" stroke="#141414" stroke-width="2.02"/>
<path d="M650.9 133.6C652.7 132.2 666.6 120.6 669.1 119.1C671.5 117.5 674.4 118 675.5 118.2C676.5 118.3 679.3 119.8 679.5 120.5C679.8 121.1 679.8 123 678.2 124.5C676.6 126.1 665.1 134.5 663.6 135.6" fill="none" stroke="#141414" stroke-width="1.68"/>
<path d="M652.3 132.9 L671.8 120.2" fill="none" stroke="#141414" stroke-width="1.23"/>
<path d="M654.5 136.5 L677.3 123.8" fill="none" stroke="#141414" stroke-width="5.15"/>
<path d="M607.3 140.9C607.8 139.1 608.5 138.1 610 137.3C611.5 136.4 616 135.6 618.2 134.5C620.4 133.5 623.7 130.4 626.4 129.5C629 128.7 636 128.2 638.2 128.2C640.4 128.2 641.3 129 642.7 129.5C644.2 130.1 647.9 131.4 649.1 132.3C650.3 133.2 650.6 135.8 651.8 136.4C653 136.9 656.1 136.4 658.2 136.4C660.2 136.4 665.3 136 667.3 136.4C669.2 136.7 671.6 138 672.7 139.1C673.9 140.2 675.4 143.1 675.9 144.5C676.4 146 676.5 148.3 676.4 150C676.2 151.7 675.3 155.7 674.5 157.3C673.8 158.8 672.1 161 670.9 161.8C669.7 162.7 667 163.3 665.5 163.6C663.9 164 661 163.8 659.1 164.5C657.2 165.3 653.3 168.1 650.9 169.1C648.5 170.1 643.7 171.3 640.9 171.8C638.1 172.3 633 172.8 630 172.7C627 172.6 620.8 171.8 618.2 170.9C615.5 170.1 611.5 167.7 610 166.4C608.5 165 607.4 163 606.8 160.9C606.3 158.8 605.8 153.6 605.9 150.9C606 148.2 606.7 142.7 607.3 140.9Z" fill="#fff" stroke="#141414" stroke-width="1.9"/>
<path d="M651.8 136.5 L659.5 144.5 L659.1 164.5" fill="none" stroke="#141414" stroke-width="1.57"/>
<ellipse cx="668.4" cy="152.7" rx="4" ry="7.3" transform="rotate(12 668.4 152.7)" fill="#fff" stroke="#141414" stroke-width="2.24"/>
<path d="M618.2 138.4 L637.3 136.9 L639.1 138.4 L639.1 145.5 L620.9 146.4 L618.6 143.6Z" fill="#fff" stroke="#141414" stroke-width="2.02"/>
<path d="M619.3 137.5 L636.5 136.4" fill="none" stroke="#141414" stroke-width="2.69"/>
<path d="M639.1 138.4 L640.9 134.5 L647.3 136.4 L650.9 139.3 L648.2 141.1 L647.3 146.5 L642.7 146.9" fill="none" stroke="#141414" stroke-width="1.68"/>
<path d="M627.3 131.6 L638.2 133.2 L641.1 134.5" fill="none" stroke="#141414" stroke-width="1.34"/>
<path d="M642.7 140.9 L642.7 146.5" fill="none" stroke="#141414" stroke-width="3.36"/>
<path d="M645.9 140.2 L647.1 146.5" fill="none" stroke="#141414" stroke-width="3.58"/>
<path d="M607.7 142C608.3 143.2 609.5 147 610.9 149.1C612.3 151.2 614.4 153.8 616.4 154.5C618.3 155.3 619.4 154.4 622.7 153.8C626.1 153.2 634.1 151.5 636.4 151.1" fill="none" stroke="#141414" stroke-width="3.58"/>
<path d="M619.5 150 L636.4 150 L630 152.7Z" fill="#222" stroke="#141414" stroke-width="1.12"/>
<path d="M646.4 149.3 L649.8 148.5" fill="none" stroke="#141414" stroke-width="1.57"/>
<line x1="718.2" y1="52.7" x2="732.7" y2="62.7" stroke="#141414" stroke-width="1.23"/>
<path d="M673.6 164.5 L680.9 156.4 L690 158.2 L696.4 165.5 L696.4 174.5 L689.1 180.9 L680 179.1 L674 172.7Z" fill="#fbfbfb" stroke="#141414" stroke-width="1.79"/>
<path d="M680.9 156.4 L682 165.8 L680 179.1" fill="none" stroke="#141414" stroke-width="1.34"/>
<path d="M682 165.8 L685.5 167.3" fill="none" stroke="#141414" stroke-width="1.34"/>
<ellipse cx="689.3" cy="169.5" rx="5.5" ry="7.6" transform="rotate(5 689.3 169.5)" fill="#fff" stroke="#141414" stroke-width="2.69"/>
<line x1="697.3" y1="170.9" x2="710.9" y2="170.9" stroke="#141414" stroke-width="1.23"/>
<line x1="732.2" y1="123.3" x2="760" y2="113.1" stroke="#3a3a3a" stroke-width="3.36"/>
<line x1="735.5" y1="122.2" x2="759.1" y2="113.5" stroke="#999" stroke-width="0.9"/>
<ellipse cx="732.2" cy="123.3" rx="2" ry="2.4" fill="#444" stroke="#141414" stroke-width="1.57"/>
<line x1="745.5" y1="121.8" x2="745.5" y2="136.4" stroke="#141414" stroke-width="1.23"/>
<ellipse cx="626.4" cy="88.7" rx="19.6" ry="8.2" transform="rotate(2 626.4 88.7)" fill="#d2d2d2" stroke="#141414" stroke-width="2.24"/>
<ellipse cx="626.4" cy="88.7" rx="12.4" ry="4.4" transform="rotate(2 626.4 88.7)" fill="#fff" stroke="#141414" stroke-width="2.13"/>
<line x1="643.6" y1="82.7" x2="657.3" y2="74.5" stroke="#141414" stroke-width="1.23"/>
<!-- p31_nut17_bolt18.py -->
<path d="M607.3 47.3 L615.5 37.3 L628.2 33.6 L640.9 39.1 L645.5 49.1 L646.4 54.5 L635.5 67.3 L616.4 66.4 L608.2 54.5Z" fill="#fbfbfb" stroke="#141414" stroke-width="1.79"/>
<path d="M607.3 47.6 L615.5 61.5 L635.5 61.8 L646 51.8" fill="none" stroke="#141414" stroke-width="1.46"/>
<path d="M615.5 61.5 L616.4 66.4" fill="none" stroke="#141414" stroke-width="1.34"/>
<path d="M635.5 61.8 L635.5 67.3" fill="none" stroke="#141414" stroke-width="1.34"/>
<ellipse cx="626.7" cy="46.4" rx="14.5" ry="9.5" transform="rotate(3 626.7 46.4)" fill="#fbfbfb" stroke="#141414" stroke-width="1.79"/>
<ellipse cx="627.3" cy="47.6" rx="10.2" ry="6.2" transform="rotate(3 627.3 47.6)" fill="#fff" stroke="#141414" stroke-width="1.79"/>
<path d="M618.2 48.7C618.8 49.4 619.8 51.9 621.8 52.7C623.8 53.6 627.6 54.1 630 53.8C632.4 53.5 635.3 51.4 636.4 50.9" fill="none" stroke="#141414" stroke-width="1.34"/>
<line x1="638.2" y1="33.6" x2="649.1" y2="24.5" stroke="#141414" stroke-width="1.23"/>
<path d="M536.8 88.2 L576.1 103.8 L579 107.8 L578.3 113.6 L574.6 116.5 L571 116.2 L536.1 99.8Z" fill="#fff" stroke="#141414" stroke-width="1.68"/>
<ellipse cx="574.8" cy="110.1" rx="4.5" ry="6.7" transform="rotate(22 574.8 110.1)" fill="#fff" stroke="#141414" stroke-width="1.68"/>
<path d="M560.1 98.5C559.7 99.3 557.8 101.6 557.5 103.5C557.3 105.3 558.3 108.6 558.4 109.6" fill="none" stroke="#141414" stroke-width="1.46"/>
<path d="M525.5 91.1 L532.5 83.5 L536.1 84.2 L544.1 87.1 L543.7 89.6 L536.8 87.8 L534.3 90 L532.5 94 L532.5 99.8 L536.8 102.4 L538.3 103.6 L530.3 101.3 L525.9 99.1Z" fill="#fff" stroke="#141414" stroke-width="1.9"/>
<path d="M535.7 84.5 L529.9 90.7 L529.5 100.9" fill="none" stroke="#141414" stroke-width="1.46"/>
<path d="M534.5 90.2C534 91 531.8 93 531.4 94.7C531 96.4 532 99.6 532.2 100.5" fill="none" stroke="#141414" stroke-width="4.03"/>
<line x1="531.7" y1="102" x2="531.7" y2="115.5" stroke="#141414" stroke-width="1.34"/>
<ellipse cx="596.9" cy="124.5" rx="8.7" ry="13.8" transform="rotate(12 596.9 124.5)" fill="#fbfbfb" stroke="#141414" stroke-width="2.24"/>
<ellipse cx="596.9" cy="124.9" rx="4.9" ry="9.1" transform="rotate(12 596.9 124.9)" fill="#fff" stroke="#141414" stroke-width="2.02"/>
<line x1="591.8" y1="138.2" x2="581.8" y2="154.5" stroke="#141414" stroke-width="1.23"/>
<!-- p32_nut23_etc.py -->
<path d="M678.2 202.7 L685.5 195.5 L694.5 193.6 L703.6 200 L706.4 208.2 L704.5 216.4 L694.5 223.6 L685.5 220 L679.6 211.8Z" fill="#fbfbfb" stroke="#141414" stroke-width="2.91"/>
<path d="M682.2 204.2 L690.5 200.2 L698.2 204.5 L699.3 213.6 L693.8 220.2" fill="none" stroke="#141414" stroke-width="1.46"/>
<path d="M690.5 200.2 L689.1 195.5" fill="none" stroke="#141414" stroke-width="1.23"/>
<path d="M698.2 204.5 L704 200.9" fill="none" stroke="#141414" stroke-width="1.23"/>
<ellipse cx="689.1" cy="211.1" rx="6.2" ry="7.3" transform="rotate(-10 689.1 211.1)" fill="#2a2a2a" stroke="#141414" stroke-width="1.68"/>
<line x1="707.3" y1="206.9" x2="732.7" y2="206.9" stroke="#141414" stroke-width="2.02"/>
<ellipse cx="633.1" cy="222.4" rx="17.8" ry="7.6" transform="rotate(3 633.1 222.4)" fill="#fbfbfb" stroke="#141414" stroke-width="2.24"/>
<ellipse cx="633.1" cy="222.4" rx="13.1" ry="4.9" transform="rotate(3 633.1 222.4)" fill="#fff" stroke="#141414" stroke-width="2.02"/>
<line x1="605.5" y1="220.9" x2="615.5" y2="220.9" stroke="#141414" stroke-width="1.12" stroke-dasharray="2 1"/>
<ellipse cx="669.1" cy="224.9" rx="15.6" ry="8.4" transform="rotate(42 669.1 224.9)" fill="#fbfbfb" stroke="#141414" stroke-width="2.24"/>
<ellipse cx="668.7" cy="225.1" rx="5.8" ry="3.1" transform="rotate(42 668.7 225.1)" fill="#fff" stroke="#141414" stroke-width="2.24"/>
<line x1="681.8" y1="234" x2="700.9" y2="246.4" stroke="#141414" stroke-width="1.23"/>
<path d="M755.3 11.4 L755.3 40 L757.3 42.7 L760.9 43.5 L764.5 42.3 L765.9 39.1 L765.9 11.4Z" fill="#fff" stroke="#141414" stroke-width="1.57"/>
<path d="M752.9 7.7 L755.3 11.6 L765.9 11.6 L768.5 7.7Z" fill="#fff" stroke="#141414" stroke-width="1.57"/>
<ellipse cx="760.7" cy="5.5" rx="8.2" ry="4.7" fill="#fbfbfb" stroke="#141414" stroke-width="1.79"/>
<path d="M758 37.1C758.2 37.3 759.2 37.7 759.3 38.2C759.4 38.6 758.7 39.5 758.5 39.8" fill="none" stroke="#141414" stroke-width="1.46"/>
<line x1="766.4" y1="19.5" x2="783.6" y2="19.5" stroke="#141414" stroke-width="1.34"/>
<!-- p40_left_sensor.py -->
<path d="M402.4 74.1 L427.2 60.7 L442.5 70.3 L443.3 72.4 L407.5 92.8 L406.8 77.9Z" fill="#fff" stroke="#141414" stroke-width="1.68"/>
<path d="M407.2 93.6 L443.3 72.9" fill="none" stroke="#141414" stroke-width="2.69"/>
<path d="M388.4 70.9 L391.5 69 L406.8 77.9 L407.5 92.5 L404.9 94.5 L389 86.2Z" fill="#222" stroke="#141414" stroke-width="1.68"/>
<path d="M427.2 49.9 L430.4 48 L445.6 56.9 L445.6 70.3 L442.5 72.2 L441.8 69.6 L427.2 61Z" fill="#222" stroke="#141414" stroke-width="1.68"/>
<path d="M393.5 74.1 L393.7 86.2" fill="none" stroke="#ddd" stroke-width="1.57"/>
<path d="M397.9 76.6 L398.2 88.7" fill="none" stroke="#ddd" stroke-width="1.57"/>
<path d="M402.4 79.2 L402.6 91.3" fill="none" stroke="#ddd" stroke-width="1.57"/>
<path d="M431 52.5 L431 61.4" fill="none" stroke="#ddd" stroke-width="1.57"/>
<path d="M434.8 54.4 L434.8 63.3" fill="none" stroke="#ddd" stroke-width="1.57"/>
<ellipse cx="431.9" cy="70.7" rx="2.8" ry="1.8" transform="rotate(20 431.9 70.7)" fill="#333" stroke="#141414" stroke-width="1.12"/>
<line x1="378.2" y1="86.4" x2="388.4" y2="86.2" stroke="#141414" stroke-width="1.23"/>
<path d="M536.7 42.9C535.8 44.1 533.4 47 531 49.9C528.6 52.8 525.3 56.5 522.2 60C519.1 63.5 515.6 67.2 512.5 71C509.4 74.8 507.9 78.5 503.9 82.6C499.8 86.7 492.8 91.6 488 95.6C483.3 99.7 479.5 103.2 475.3 107.2C471 111.3 466.7 115.7 462.4 119.9C458.2 124.2 453.9 128 449.7 132.7C445.4 137.4 441.2 143.1 437 148C432.7 152.9 427.7 158 424.2 162C420.8 166.1 418.4 169.7 416.5 172.3C414.5 175 416 172.9 412.6 178.1C409.2 183.3 398.8 199.4 396 203.7" fill="none" stroke="#141414" stroke-width="4.44"/>
<path d="M536.7 42.9C535.8 44.1 533.4 47 531 49.9C528.6 52.8 525.3 56.5 522.2 60C519.1 63.5 515.6 67.2 512.5 71C509.4 74.8 507.9 78.5 503.9 82.6C499.8 86.7 492.8 91.6 488 95.6C483.3 99.7 479.5 103.2 475.3 107.2C471 111.3 466.7 115.7 462.4 119.9C458.2 124.2 453.9 128 449.7 132.7C445.4 137.4 441.2 143.1 437 148C432.7 152.9 427.7 158 424.2 162C420.8 166.1 418.4 169.7 416.5 172.3C414.5 175 416 172.9 412.6 178.1C409.2 183.3 398.8 199.4 396 203.7" fill="none" stroke="#fff" stroke-width="1.99"/>
<path d="M545.6 58.2C545 58.6 544.8 58.7 541.8 60.7C538.8 62.7 531.8 67.4 527.3 70.2C522.8 73 518.1 75.3 514.5 77.8C510.9 80.3 510 81.8 505.9 85.2C501.9 88.6 494.9 94.1 490.2 98.2C485.4 102.2 481.8 105.6 477.5 109.6C473.3 113.6 469 118.1 464.8 122.3C460.5 126.5 456.3 130.3 452.1 134.9C447.9 139.6 443.7 145.3 439.4 150.2C435.2 155.1 430.1 160.1 426.8 164.2C423.4 168.2 421 171.6 419.1 174.3C417.2 176.9 418.8 174.7 415.4 179.9C412 185.1 401.6 201.2 398.8 205.5" fill="none" stroke="#141414" stroke-width="4.44"/>
<path d="M545.6 58.2C545 58.6 544.8 58.7 541.8 60.7C538.8 62.7 531.8 67.4 527.3 70.2C522.8 73 518.1 75.3 514.5 77.8C510.9 80.3 510 81.8 505.9 85.2C501.9 88.6 494.9 94.1 490.2 98.2C485.4 102.2 481.8 105.6 477.5 109.6C473.3 113.6 469 118.1 464.8 122.3C460.5 126.5 456.3 130.3 452.1 134.9C447.9 139.6 443.7 145.3 439.4 150.2C435.2 155.1 430.1 160.1 426.8 164.2C423.4 168.2 421 171.6 419.1 174.3C417.2 176.9 418.8 174.7 415.4 179.9C412 185.1 401.6 201.2 398.8 205.5" fill="none" stroke="#fff" stroke-width="1.99"/>
<path d="M531.4 50 L538.3 40.4" fill="none" stroke="#141414" stroke-width="4.7"/>
<path d="M532.7 48.3 L537 42.1" fill="none" stroke="#fff" stroke-width="1.57"/>
<path d="M538.3 40.4 L541.8 35.3 L545.6 29.9" fill="none" stroke="#141414" stroke-width="2.91"/>
<path d="M540.5 37.2 L544.4 31.7" fill="none" stroke="#ddd" stroke-width="0.78"/>
<path d="M545.9 58.4 L555.2 54.6" fill="none" stroke="#141414" stroke-width="4.7"/>
<path d="M547.9 57.7 L553.5 55.4" fill="none" stroke="#fff" stroke-width="1.57"/>
<path d="M555.2 54.6 L562.2 51.8 L568.8 49.5" fill="none" stroke="#141414" stroke-width="2.91"/>
<path d="M557.7 53.6 L566.6 50.3" fill="none" stroke="#ddd" stroke-width="0.78"/>
<ellipse cx="531.1" cy="50.8" rx="1.3" ry="1.1" fill="#fff" stroke="#141414" stroke-width="1.34"/>
<path d="M412.4 175.5 L419.6 173.9 L419.6 180.1 L414.3 181.4Z" fill="#fff" stroke="#141414" stroke-width="1.68"/>
<path d="M393.4 202.7 L400.6 206.6" fill="none" stroke="#111" stroke-width="2.91"/>
<path d="M392.8 208.5C390.7 211.8 384.3 221.4 380 228C375.7 234.6 370.1 243.2 367 248C363.9 252.8 362.4 255.1 361.5 256.5" fill="none" stroke="#141414" stroke-width="6.27"/>
<path d="M392.8 208.5C390.7 211.8 384.3 221.4 380 228C375.7 234.6 370.1 243.2 367 248C363.9 252.8 362.4 255.1 361.5 256.5" fill="none" stroke="#fff" stroke-width="4.03"/>
<path d="M392.8 208.5C390.7 211.8 384.3 221.4 380 228C375.7 234.6 370.1 243.2 367 248C363.9 252.8 362.4 255.1 361.5 256.5" fill="none" stroke="#141414" stroke-width="1.12"/>
<path d="M363 248.8 L369.8 243.6 L371.5 246.9 L364.9 254Z" fill="#fff" stroke="#141414" stroke-width="1.68"/>
<line x1="393.1" y1="216.3" x2="411.1" y2="226.6" stroke="#141414" stroke-width="1.23"/>
<path d="M342.4 166.7C343.9 164.6 346 165.1 348.1 165.5C350.1 166 353 167.3 354.6 169.6C356.3 171.9 357.8 176.2 357.9 179.4C358 182.7 356.8 186.4 355.4 189.3C354.1 192.1 351.3 195.5 349.7 196.6C348.1 197.7 347 197.2 345.6 195.8C344.3 194.4 342.6 191.4 341.5 188.4C340.4 185.4 338.9 181.4 339.1 177.8C339.2 174.2 340.9 168.7 342.4 166.7Z" fill="#f2f2f2" stroke="#141414" stroke-width="2.24"/>
<ellipse cx="346.9" cy="179.8" rx="2.1" ry="4.1" fill="#fff" stroke="#141414" stroke-width="1.79"/>
<ellipse cx="346.6" cy="190.7" rx="1.5" ry="1.6" fill="#fff" stroke="#141414" stroke-width="1.57"/>
<path d="M346.4 167.7 L346.4 175.8" fill="none" stroke="#141414" stroke-width="2.02"/>
<line x1="326" y1="155.2" x2="342" y2="166.4" stroke="#141414" stroke-width="1.23"/>
<path d="M322.7 197.4 L330.1 194.2 L333.4 196.6 L332.9 199.9 L325.2 204.3Z" fill="#fff" stroke="#141414" stroke-width="1.68"/>
<ellipse cx="320.4" cy="202" rx="4.9" ry="5.4" fill="#f0f0f0" stroke="#141414" stroke-width="1.79"/>
<line x1="306.4" y1="188" x2="317.8" y2="197.4" stroke="#141414" stroke-width="1.23"/>
<path d="M359.5 255C358.7 256.2 356.4 260.3 354.6 262.4C352.9 264.4 350.7 266 348.9 267.3C347.1 268.6 344.8 269.7 344 270.1" fill="none" stroke="#141414" stroke-width="1.79"/>
<path d="M366.5 255C365.8 256.2 363.3 260 362 262.4C360.7 264.7 359.7 266.6 358.7 268.9C357.8 271.2 356.9 274.1 356.4 276.3C356 278.5 356 281 355.9 282" fill="none" stroke="#141414" stroke-width="1.79"/>
<path d="M363.2 255C362.4 256.2 359.7 260.2 358.3 262C357 263.7 356.9 264.1 355 265.6C353.2 267.2 348.6 270.4 347.3 271.4" fill="none" stroke="#141414" stroke-width="1.57"/>
<path d="M355.5 265.6C355.3 266.6 354.7 269.5 354.6 271.4C354.5 273.2 354.8 275.8 354.8 276.7" fill="none" stroke="#141414" stroke-width="1.57"/>
<path d="M335.8 268.1C339.1 268.1 342.8 268.4 345.6 269.7C348.5 271.1 351.2 273.5 353 276.3C354.8 279 355.9 282.8 356.3 286.1C356.7 289.4 356.4 292.4 355.5 295.9C354.5 299.5 352.7 303.5 350.5 307.4C348.4 311.2 345.4 315.5 342.4 318.8C339.4 322.1 335.5 325.4 332.5 327C329.5 328.6 327.4 329 324.4 328.6C321.4 328.2 317.4 326.7 314.5 324.5C311.7 322.4 308.8 319 307.2 315.5C305.5 312.1 304.9 307.5 304.7 304.1C304.6 300.7 305.1 297.5 306.4 295.1C307.6 292.6 310.3 291.4 312.1 289.4C313.9 287.3 315.8 285.1 317 282.8C318.2 280.5 318 277.6 319.5 275.5C321 273.3 323.3 271 326 269.7C328.7 268.5 332.5 268.1 335.8 268.1Z" fill="#fff" stroke="#141414" stroke-width="2.69"/>
<ellipse cx="334.6" cy="301.6" rx="15.1" ry="22.1" transform="rotate(30 334.6 301.6)" fill="#1c1c1c" stroke="#141414" stroke-width="1.12"/>
<path d="M312.5 293.5C311.9 295.2 309.2 300.4 309 304.1C308.8 307.8 309.8 312.3 311.4 315.5C313 318.8 317.4 322 318.6 323.3" fill="none" stroke="#141414" stroke-width="2.02"/>
<path d="M313.7 291 L317.8 283.6 L324.4 283.6 L330.9 286.1 L325.2 291.8 L319.5 297.5 L314.5 297.5Z" fill="#1c1c1c" stroke="#141414" stroke-width="1.12"/>
<path d="M321.9 278.7C322.6 277.2 326.4 273.8 329.3 272.6C332.1 271.4 336.9 271.1 339.1 271.4C341.3 271.6 343.5 273.1 342.4 274C341.3 274.8 335.4 275.1 332.5 276.4C329.7 277.8 327 281.6 325.2 282C323.4 282.4 321.2 280.3 321.9 278.7Z" fill="#fff" stroke="#141414" stroke-width="0.67"/>
<path d="M338.3 280.4 L348.9 286.1 L353.4 287.7 L352.6 293.5 L347.3 293.9 L339.1 287.7 L335.4 283.6Z" fill="#fff" stroke="#141414" stroke-width="0.67"/>
<path d="M339.9 283.8 L348.9 289.4" fill="none" stroke="#141414" stroke-width="1.79"/>
<path d="M323.7 298.4 L330.1 288.7" fill="none" stroke="#fff" stroke-width="4.03"/>
<path d="M344.7 308 L350.1 298.2" fill="none" stroke="#1c1c1c" stroke-width="5.82"/>
<path d="M344.7 308 L350.1 298.2" fill="none" stroke="#fff" stroke-width="2.69"/>
<path d="M317.8 312.7 L325.2 310 L328.5 312.3 L322.7 320.5 L318.6 319.6Z" fill="#fff" stroke="#141414" stroke-width="0.67"/>
<path d="M329.7 314.1 L335.8 312.3 L334.6 320.5 L325.6 324.5Z" fill="#fff" stroke="#141414" stroke-width="0.67"/>
<path d="M339.1 312.7 L345.6 311.5 L342.8 318.8 L336.2 323.3Z" fill="#fff" stroke="#141414" stroke-width="0.67"/>
<path d="M338.3 309 L339.9 313.9" fill="none" stroke="#fff" stroke-width="2.24"/>
<ellipse cx="334.6" cy="294.3" rx="0.6" ry="0.6" fill="#fff" stroke="#fff" stroke-width="0.11"/>
<ellipse cx="338.3" cy="292.2" rx="0.6" ry="0.6" fill="#fff" stroke="#fff" stroke-width="0.11"/>
<ellipse cx="340.7" cy="295.9" rx="0.6" ry="0.6" fill="#fff" stroke="#fff" stroke-width="0.11"/>
<ellipse cx="334.2" cy="300.8" rx="0.6" ry="0.6" fill="#fff" stroke="#fff" stroke-width="0.11"/>
<ellipse cx="339.1" cy="304.1" rx="0.6" ry="0.6" fill="#fff" stroke="#fff" stroke-width="0.11"/>
<ellipse cx="341.5" cy="300" rx="0.6" ry="0.6" fill="#fff" stroke="#fff" stroke-width="0.11"/>
<path d="M271.2 263.6 L289.8 274.6" fill="none" stroke="#1a1a1a" stroke-width="6.72"/>
<path d="M278.6 265.2 L276.3 269.2" fill="none" stroke="#aaa" stroke-width="0.9"/>
<path d="M280.8 266.5 L278.5 270.5" fill="none" stroke="#aaa" stroke-width="0.9"/>
<path d="M283 267.8 L280.7 271.9" fill="none" stroke="#aaa" stroke-width="0.9"/>
<path d="M285.2 269.1 L282.8 273.2" fill="none" stroke="#aaa" stroke-width="0.9"/>
<path d="M287.3 270.4 L285 274.5" fill="none" stroke="#aaa" stroke-width="0.9"/>
<path d="M289.5 271.7 L287.2 275.8" fill="none" stroke="#aaa" stroke-width="0.9"/>
<ellipse cx="270.6" cy="263.3" rx="2.5" ry="3.5" transform="rotate(-30 270.6 263.3)" fill="#1a1a1a" stroke="#141414" stroke-width="1.12"/>
<line x1="247.3" y1="263.3" x2="268" y2="262.5" stroke="#141414" stroke-width="1.34"/>
<ellipse cx="295.6" cy="277.5" rx="3.2" ry="3.2" fill="#aaa" stroke="#888" stroke-width="0.9"/>
<ellipse cx="295.6" cy="277.5" rx="1.2" ry="1.2" fill="#ddd" stroke="#999" stroke-width="0.56"/>
<line x1="292.7" y1="253.8" x2="295.9" y2="274.2" stroke="#141414" stroke-width="1.23"/>
<path d="M301.5 285.8 L305.8 278.1 L311.1 280.3 L312.5 285.1 L308.7 289.7 L303.5 288.4Z" fill="#fff" stroke="#141414" stroke-width="2.02"/>
<path d="M306.7 279.3 L311.3 281 L312.2 285.4 L309 289.2 L304.7 286.8Z" fill="#222" stroke="#141414" stroke-width="1.12"/>
<line x1="284" y1="298.9" x2="301.5" y2="289.5" stroke="#141414" stroke-width="1.34"/>
<!-- p41_bolt21.py -->
<path d="M399.3 372.9 L461.3 342.5 L466.1 343.2 L468.4 347.3 L467.5 352 L404.1 381.6Z" fill="#fff" stroke="#141414" stroke-width="1.68"/>
<path d="M445 350.7C445.9 351.2 449.3 352.8 450.4 354.1C451.6 355.3 451.6 357.5 451.8 358.2" fill="none" stroke="#141414" stroke-width="1.46"/>
<path d="M385 380 L389.1 373.2 L393.9 371.5 L399.3 373.2 L403.4 380.7 L402.7 386.8 L397.9 391.6 L391.8 390.9 L387 386.8Z" fill="#fbfbfb" stroke="#141414" stroke-width="2.02"/>
<ellipse cx="392.6" cy="382.2" rx="6.5" ry="8.5" transform="rotate(-15 392.6 382.2)" fill="#fff" stroke="#141414" stroke-width="1.79"/>
<line x1="412.9" y1="341.8" x2="412.9" y2="363.6" stroke="#141414" stroke-width="1.34"/>
<ellipse cx="482.9" cy="333.3" rx="9" ry="14.7" transform="rotate(-14 482.9 333.3)" fill="#fbfbfb" stroke="#141414" stroke-width="2.46"/>
<ellipse cx="482.1" cy="333.3" rx="3.7" ry="5.7" transform="rotate(-14 482.1 333.3)" fill="#fff" stroke="#141414" stroke-width="2.46"/>
<line x1="481.1" y1="298.9" x2="481.1" y2="316.6" stroke="#141414" stroke-width="1.34"/>
<path d="M473.6 398 L482.5 395 L483.8 400.4 L477.7 405.9Z" fill="#c4c4c4" stroke="#777" stroke-width="1.12"/>
<path d="M478.4 395.6 L479.1 403.1" fill="none" stroke="#555" stroke-width="1.79"/>
<ellipse cx="469.2" cy="404.5" rx="4.8" ry="4.8" fill="#f2f2f2" stroke="#999" stroke-width="1.12"/>
<ellipse cx="468.4" cy="405.3" rx="1.9" ry="1.9" fill="#fff" stroke="#aaa" stroke-width="0.9"/>
<line x1="471.1" y1="383.4" x2="471.1" y2="397.7" stroke="#141414" stroke-width="1.23"/>
<path d="M447.7 412.7C449.6 411 452.5 408.6 454.5 408.6C456.6 408.6 459.1 411 460 412.7C460.9 414.4 461.3 417.3 460 418.8C458.6 420.3 454.4 421 451.8 421.5C449.2 422.1 445.7 422.4 444.3 422C442.9 421.5 442.8 420.4 443.3 418.8C443.9 417.3 445.8 414.4 447.7 412.7Z" fill="#fff" stroke="#141414" stroke-width="2.24"/>
<ellipse cx="440.9" cy="405.9" rx="6" ry="7.6" transform="rotate(-25 440.9 405.9)" fill="#222" stroke="#141414" stroke-width="2.69"/>
<ellipse cx="449.1" cy="418.1" rx="2.2" ry="1.6" fill="#fff" stroke="#141414" stroke-width="2.24"/>
<line x1="417" y1="421.1" x2="436.8" y2="410" stroke="#141414" stroke-width="1.46"/>
<!-- p50_right.py -->
<path d="M967.8 239.5C968.1 241.8 969.5 248.2 969.7 253.5C970 258.8 969.7 265.5 969.3 271.3C968.9 277.1 968.5 282.3 967.3 288.6C966.1 294.9 963.8 302.2 961.9 309.1C960 315.9 957.7 322.8 955.7 329.5C953.7 336.3 951.9 342.9 949.9 349.5C948 356.2 946.8 361.6 943.9 369.4C941.1 377.3 936.9 387.7 933 396.9C929.1 406 924.9 415.1 920.5 424.3C916.2 433.4 909.2 447.2 906.9 451.8" fill="none" stroke="#141414" stroke-width="4.44"/>
<path d="M967.8 239.5C968.1 241.8 969.5 248.2 969.7 253.5C970 258.8 969.7 265.5 969.3 271.3C968.9 277.1 968.5 282.3 967.3 288.6C966.1 294.9 963.8 302.2 961.9 309.1C960 315.9 957.7 322.8 955.7 329.5C953.7 336.3 951.9 342.9 949.9 349.5C948 356.2 946.8 361.6 943.9 369.4C941.1 377.3 936.9 387.7 933 396.9C929.1 406 924.9 415.1 920.5 424.3C916.2 433.4 909.2 447.2 906.9 451.8" fill="none" stroke="#fff" stroke-width="1.99"/>
<path d="M979.3 238.2C979.1 241.4 978.8 251 978 257.3C977.2 263.6 976.1 270.6 974.8 276C973.5 281.4 972.1 283.8 970.5 289.4C968.9 295.1 967 303.1 965.1 309.9C963.2 316.8 960.9 323.7 958.9 330.5C956.9 337.2 955.1 343.8 953.1 350.5C951.1 357.1 949.9 362.6 947.1 370.6C944.2 378.5 939.9 389 936 398.1C932.1 407.3 927.8 416.5 923.5 425.7C919.1 434.9 912.1 448.6 909.9 453.2" fill="none" stroke="#141414" stroke-width="4.44"/>
<path d="M979.3 238.2C979.1 241.4 978.8 251 978 257.3C977.2 263.6 976.1 270.6 974.8 276C973.5 281.4 972.1 283.8 970.5 289.4C968.9 295.1 967 303.1 965.1 309.9C963.2 316.8 960.9 323.7 958.9 330.5C956.9 337.2 955.1 343.8 953.1 350.5C951.1 357.1 949.9 362.6 947.1 370.6C944.2 378.5 939.9 389 936 398.1C932.1 407.3 927.8 416.5 923.5 425.7C919.1 434.9 912.1 448.6 909.9 453.2" fill="none" stroke="#fff" stroke-width="1.99"/>
<path d="M963 219.1 L964.6 229.3 L967.8 239.5" fill="none" stroke="#1a1a1a" stroke-width="4.03"/>
<path d="M964.5 227.4 L966 236.3" fill="none" stroke="#eee" stroke-width="1.34"/>
<path d="M981.2 215.9 L979.9 228 L979.3 238.2" fill="none" stroke="#1a1a1a" stroke-width="4.03"/>
<path d="M979.9 225.5 L979.3 235.6" fill="none" stroke="#eee" stroke-width="1.34"/>
<line x1="822.4" y1="292" x2="894.5" y2="314.5" stroke="#222" stroke-width="3.47"/>
<line x1="824" y1="292.5" x2="892" y2="313.7" stroke="#e8e8e8" stroke-width="0.9"/>
<path d="M894.3 312.3 L901.1 311.7 L902.1 317.3 L899.3 320.1 L894.8 319.4Z" fill="#333" stroke="#141414" stroke-width="2.69"/>
<ellipse cx="898.1" cy="316.3" rx="1.4" ry="1.4" fill="#eee" stroke="#141414" stroke-width="0.9"/>
<line x1="851.3" y1="270.9" x2="851.3" y2="295.5" stroke="#141414" stroke-width="1.23"/>
<line x1="937.7" y1="398.7" x2="961.8" y2="398.7" stroke="#141414" stroke-width="1.46"/>
<path d="M902.4 454.4 L909 457.2" fill="none" stroke="#111" stroke-width="2.91"/>
<path d="M904.5 457C902.4 461.2 896.3 473.2 892 482C887.7 490.8 880.8 505.3 878.5 510" fill="none" stroke="#141414" stroke-width="6.27"/>
<path d="M904.5 457C902.4 461.2 896.3 473.2 892 482C887.7 490.8 880.8 505.3 878.5 510" fill="none" stroke="#fff" stroke-width="4.03"/>
<path d="M904.5 457C902.4 461.2 896.3 473.2 892 482C887.7 490.8 880.8 505.3 878.5 510" fill="none" stroke="#141414" stroke-width="1.12"/>
<ellipse cx="878" cy="418.4" rx="11.6" ry="18" transform="rotate(14 878 418.4)" fill="#fff" stroke="#1a1a1a" stroke-width="2.91"/>
<path d="M873.6 402.7C872.8 404.1 869.7 407.7 868.6 410.9C867.6 414.1 866.9 418.5 867.3 421.8C867.6 425.2 869.2 428.8 870.7 430.9C872.2 433 875.4 433.9 876.4 434.5" fill="none" stroke="#1a1a1a" stroke-width="2.46"/>
<path d="M878.2 403.6C877.3 405 874.2 408.8 873.2 411.8C872.1 414.8 871.6 418.8 871.8 421.8C872 424.8 873.3 428.2 874.5 430C875.8 431.8 878.3 432.3 879.1 432.7" fill="none" stroke="#1a1a1a" stroke-width="2.46"/>
<path d="M882.7 405.5C881.9 406.8 879 410.8 878 413.6C877 416.5 876.6 420.2 876.8 422.7C877 425.3 878.7 428 879.1 429.1" fill="none" stroke="#1a1a1a" stroke-width="2.46"/>
<path d="M886.4 407.3C885.8 408.6 883.5 412.7 882.7 415.5C882 418.2 881.8 421.7 881.8 423.6C881.8 425.6 882.6 426.7 882.7 427.3" fill="none" stroke="#1a1a1a" stroke-width="2.24"/>
<path d="M884.5 402.7C885.3 403.8 888.1 406.5 889.1 409.1C890.1 411.7 890.8 415.2 890.5 418.2C890.2 421.2 888.6 424.8 887.3 427.3C886 429.7 883.5 431.8 882.7 432.7" fill="none" stroke="#1a1a1a" stroke-width="2.46"/>
<path d="M868.2 427.3C868.8 428.2 870.2 431.2 871.8 432.7C873.5 434.2 876.1 436.2 878.2 436.2C880.2 436.2 883.1 433.3 884.1 432.7" fill="none" stroke="#1a1a1a" stroke-width="4.48"/>
<path d="M872.7 403.5C873.2 403 874.4 401 875.5 400.5C876.5 399.9 878 399.7 879.1 400C880.2 400.3 880.8 401.5 881.8 402C882.9 402.5 884.4 401.8 885.5 402.7C886.5 403.6 887.9 406.5 888.4 407.3" fill="none" stroke="#1a1a1a" stroke-width="2.91"/>
<path d="M877.3 418.2 L885.5 422.7" fill="none" stroke="#1a1a1a" stroke-width="2.24"/>
<line x1="840.5" y1="390.5" x2="865.5" y2="410.9" stroke="#777" stroke-width="1.01"/>
<path d="M770 489 L775 478 L794 487 L798 493 L797 500 L792 504 L787 503 L770 492.4Z" fill="#fff" stroke="#141414" stroke-width="1.79"/>
<path d="M755 475 L760 470 L767 472 L775.6 478 L770.4 490 L760 485.6 L755 481Z" fill="#262626" stroke="#141414" stroke-width="1.79"/>
<path d="M758.4 473 L756.8 482.4" fill="none" stroke="#ccc" stroke-width="1.01"/>
<path d="M761.2 474.2 L759.6 483.6" fill="none" stroke="#ccc" stroke-width="1.01"/>
<path d="M764 475.4 L762.4 484.8" fill="none" stroke="#ccc" stroke-width="1.01"/>
<path d="M766.8 476.6 L765.2 486" fill="none" stroke="#ccc" stroke-width="1.01"/>
<ellipse cx="791.6" cy="495.6" rx="5.4" ry="7.6" transform="rotate(20 791.6 495.6)" fill="#fff" stroke="#141414" stroke-width="2.02"/>
<ellipse cx="791.2" cy="496" rx="3" ry="4.2" transform="rotate(20 791.2 496)" fill="#222" stroke="#141414" stroke-width="1.12"/>
<path d="M779.4 480.4C778.9 482 776.8 487.4 776.4 490C776 492.6 777.1 495 777.2 496" fill="none" stroke="#141414" stroke-width="1.79"/>
<path d="M770 491.6 L787 503 L792.4 504" fill="none" stroke="#141414" stroke-width="3.36"/>
<path d="M776 478.4 L794 486.8" fill="none" stroke="#141414" stroke-width="2.46"/>
<path d="M786.4 485C785.9 486.5 783.7 491.5 783.4 494C783.1 496.5 784.2 499 784.4 500" fill="none" stroke="#141414" stroke-width="2.91"/>
<line x1="777" y1="453" x2="777" y2="476" stroke="#141414" stroke-width="1.34"/>
<line x1="798.4" y1="499.2" x2="886.4" y2="551.2" stroke="#141414" stroke-width="1.79" stroke-dasharray="9.5 6" stroke-linecap="butt"/>
<path d="M844 526C846 522.8 850.8 516.3 854 514C857.2 511.7 864.5 509.1 868 509C871.5 508.9 877.3 511.5 880 513C882.7 514.5 886.7 517.7 888 520C889.3 522.3 890.1 527.9 890 530C889.9 532.1 888.3 534.1 887.6 536C886.9 537.9 885.6 541.9 884.4 544C883.2 546.1 880 549.9 878.4 552C876.8 554.1 874.3 558.1 872.4 560C870.5 561.9 866.5 565.1 864 566C861.5 566.9 856.7 567.2 854 566.4C851.3 565.6 846 562.2 844 560C842 557.8 839.7 552.9 839 550C838.3 547.1 838.3 541.2 839 538C839.7 534.8 842 529.2 844 526Z" fill="#fff" stroke="#141414" stroke-width="1.79"/>
<path d="M873 509.6 L882.4 513.6" fill="none" stroke="#111" stroke-width="3.58"/>
<ellipse cx="852.4" cy="536" rx="10" ry="22.4" transform="rotate(24 852.4 536)" fill="#fff" stroke="#141414" stroke-width="1.68"/>
<ellipse cx="853.6" cy="534" rx="5.6" ry="12.4" transform="rotate(24 853.6 534)" fill="#444" stroke="#141414" stroke-width="1.34"/>
<ellipse cx="854" cy="533.6" rx="2.4" ry="6" transform="rotate(24 854 533.6)" fill="#ddd" stroke="#141414" stroke-width="0.9"/>
<path d="M860 517C860.8 517.5 864.5 518.5 865 520C865.5 521.5 863.3 525 863 526" fill="none" stroke="#141414" stroke-width="1.57"/>
<path d="M844 558 L849 562.4" fill="none" stroke="#141414" stroke-width="2.91"/>
<line x1="860" y1="535" x2="886.4" y2="551.2" stroke="#141414" stroke-width="1.79" stroke-dasharray="9.5 6" stroke-linecap="butt"/>
<path d="M891 557 L894 552 L899 553 L903 558 L901 563 L896 562.4Z" fill="#fff" stroke="#141414" stroke-width="1.9"/>
<path d="M897 554.4 L902.4 558 L900.8 562.4 L898 561.6Z" fill="#333" stroke="#141414" stroke-width="0.9"/>
<ellipse cx="907.6" cy="562.4" rx="3" ry="3.2" fill="#aaa" stroke="#888" stroke-width="0.9"/>
<path d="M914.4 567.2 L932 576.8" fill="none" stroke="#222" stroke-width="5.6"/>
<path d="M916 568 L929 575.2" fill="none" stroke="#666" stroke-width="2.69" stroke-dasharray="1 1"/>
<ellipse cx="933.2" cy="578" rx="4" ry="3.4" transform="rotate(30 933.2 578)" fill="#333" stroke="#141414" stroke-width="1.57"/>
<line x1="910" y1="559" x2="935" y2="547" stroke="#141414" stroke-width="1.34"/>
<line x1="893" y1="560" x2="893.6" y2="583" stroke="#141414" stroke-width="1.34"/>
<line x1="932.4" y1="582" x2="933" y2="606" stroke="#141414" stroke-width="1.34"/>
<!-- p60_inset_top.py -->
<path d="M269.1 687.3C267.4 688.2 263.2 690.5 259.1 692.7C255 695 249.4 698 244.5 700.9C239.7 703.8 234.8 707.1 230 710C225.2 712.9 220 715.3 215.5 718.2C210.9 721.1 207 723.9 202.7 727.3C198.5 730.6 192.9 735.4 190 738.2C187.1 741 186.1 743 185.3 744" fill="none" stroke="#141414" stroke-width="1.79"/>
<path d="M230 713.6C227.9 714.8 221.5 718.2 217.3 720.9C213 723.6 208.5 726.8 204.5 730C200.6 733.2 197 736.5 193.6 740C190.3 743.5 187.1 747.3 184.5 750.9C182 754.5 179.4 758.8 178.2 761.8C177 764.8 176.4 767.6 177.3 769.1C178.2 770.6 182.6 770.6 183.6 770.9" fill="none" stroke="#141414" stroke-width="1.57"/>
<path d="M226.4 716.4C223.9 717.9 216.4 722.1 211.8 725.5C207.3 728.8 202.9 732.4 199.1 736.4C195.3 740.3 190.8 747 189.1 749.1" fill="none" stroke="#141414" stroke-width="1.46"/>
<path d="M269.1 687.3C271.1 687.9 276.5 689.8 280.9 690.9C285.3 692 292.1 692.3 295.5 693.6C298.8 695 300.3 697.4 300.9 699.1C301.5 700.8 300 703.2 299.1 703.6C298.2 704.1 296.1 702.1 295.5 701.8" fill="none" stroke="#141414" stroke-width="1.79"/>
<path d="M280.9 700 L295.5 693.6" fill="none" stroke="#141414" stroke-width="1.46"/>
<path d="M300.9 700C302.1 701.8 305.9 706.7 308.2 710.9C310.5 715.2 313.1 722 314.5 725.5C316 728.9 316.5 730.8 316.9 731.8" fill="none" stroke="#333" stroke-width="2.24"/>
<path d="M242.7 700.9C241.8 701.7 238.6 703.5 237.3 705.5C235.9 707.4 233.9 709.9 234.5 712.7C235.2 715.5 238 719.9 240.9 722.2C243.8 724.5 248.4 725.6 251.8 726.5C255.2 727.5 257.9 727.8 261.3 727.8C264.6 727.8 268.4 727.5 271.8 726.5C275.2 725.6 279.1 724.2 281.8 722.2C284.5 720.2 287.4 717 288.2 714.5C288.9 712.1 287.5 709.3 286.4 707.3C285.2 705.2 282.1 703 281.3 702.2" fill="none" stroke="#141414" stroke-width="1.68"/>
<path d="M235.1 714.5C236.1 715.9 238.1 720.8 240.9 722.9C243.7 725 248.4 726.3 251.8 727.3C255.2 728.2 257.9 728.5 261.3 728.5C264.6 728.5 268.4 728.2 271.8 727.3C275.2 726.3 279.2 724.8 281.8 722.9C284.5 721 286.8 716.8 287.8 715.6" fill="none" stroke="#141414" stroke-width="3.81"/>
<path d="M251.8 697.3 L270.9 696.4 L280.9 702.7 L280 717.3 L270.9 720.9 L251.5 720.9Z" fill="#fff" stroke="#141414" stroke-width="1.68"/>
<path d="M251.5 703.6 L270.9 703.6 L280.9 702.7" fill="none" stroke="#141414" stroke-width="1.46"/>
<path d="M270.9 703.6 L270.9 720.9" fill="none" stroke="#141414" stroke-width="1.46"/>
<path d="M240.9 701.8C239.7 703.9 239.1 711.8 240 714.5C240.9 717.3 245.2 720.3 246.4 718.2C247.6 716.1 248.2 704.5 247.3 701.8C246.4 699.1 242.1 699.7 240.9 701.8Z" fill="#fff" stroke="#141414" stroke-width="1.68"/>
<path d="M244.2 704.5 L244.5 715.5" fill="none" stroke="#141414" stroke-width="1.23"/>
<path d="M278.2 719.1 L295.5 754.5 L298.2 752.7 L281.8 718.2" fill="none" stroke="#141414" stroke-width="1.57"/>
<path d="M296.9 755.5C299.1 759.8 305.7 773.2 310 781.8C314.3 790.5 319.1 799.4 322.7 807.3C326.4 815.2 330.2 824.5 331.8 829.1C333.5 833.6 332.6 833.6 332.7 834.5" fill="none" stroke="#141414" stroke-width="1.34"/>
<path d="M224.5 740C225.3 740.7 227.8 743.8 230 745.5C232.2 747.2 238 751.9 240.9 752.7C243.8 753.6 250 752.5 251.8 751.8C253.6 751.1 253.1 746.7 254.5 747.3C256 747.9 260.7 753.5 262.7 756.4C264.8 759.3 268.3 766.2 270 769.1C271.7 772 273.5 776.8 275.5 778.2C277.4 779.5 282.6 778.1 284.5 779.1C286.5 780.1 289.3 784.6 290 785.5" fill="none" stroke="#141414" stroke-width="2.69"/>
<path d="M235.5 726.4C236.7 727.2 242.1 731.9 244.5 732.7C247 733.6 251.2 731.8 253.6 732.7C256.1 733.7 259.6 735.4 262.7 740C265.9 744.6 274.6 762.7 277.3 767.3C279.9 771.9 282 773.6 282.7 774.5" fill="none" stroke="#141414" stroke-width="1.79"/>
<path d="M230 725.5C229.4 726.7 226.1 730.6 226.4 732.7C226.7 734.8 229.7 736.7 231.8 738.2C233.9 739.7 237.9 741.2 239.1 741.8" fill="none" stroke="#141414" stroke-width="1.79"/>
<ellipse cx="220" cy="728.7" rx="2.4" ry="4.5" transform="rotate(-20 220 728.7)" fill="#fff" stroke="#141414" stroke-width="1.79"/>
<ellipse cx="228.5" cy="719.1" rx="2" ry="3.3" transform="rotate(10 228.5 719.1)" fill="#fff" stroke="#141414" stroke-width="1.68"/>
<path d="M237.3 736.4 L251.8 732.7 L253.6 749.1 L240.9 752.7Z" fill="none" stroke="#141414" stroke-width="1.68"/>
<path d="M244.5 734.5 L246 751.3" fill="none" stroke="#555" stroke-width="1.23"/>
<path d="M249.1 733.6 L250 750" fill="none" stroke="#555" stroke-width="1.23"/>
<ellipse cx="257.3" cy="752" rx="2.4" ry="4" transform="rotate(-20 257.3 752)" fill="#fff" stroke="#141414" stroke-width="1.68"/>
<path d="M268.2 765.5 L275.5 774.9" fill="none" stroke="#141414" stroke-width="3.36"/>
<path d="M275.5 778.2C276.2 777.6 278.2 774.8 280 774.5C281.8 774.2 284.5 774.8 286.4 776.4C288.2 777.9 290.2 782.4 290.9 783.6" fill="none" stroke="#141414" stroke-width="1.46"/>
<path d="M202.7 730 L208.2 727.3 L210 732.7 L204.5 734.5Z" fill="none" stroke="#141414" stroke-width="2.24"/>
<path d="M210 734.5C209.1 735.5 206.1 737.6 204.5 740C203 742.4 201.7 746.4 200.9 749.1C200.2 751.8 200.2 755.2 200 756.4" fill="none" stroke="#141414" stroke-width="1.46"/>
<path d="M210 734.5 L222.7 736.7" fill="none" stroke="#888" stroke-width="1.34"/>
<path d="M214.5 736.4C214.7 738.5 214.7 745.5 215.5 749.1C216.2 752.7 218.3 755.2 219.1 758.2C219.8 761.2 219.8 765.8 220 767.3" fill="none" stroke="#141414" stroke-width="1.79"/>
<line x1="260.5" y1="841.5" x2="270" y2="840.4" stroke="#777" stroke-width="0.9"/>
<!-- p61_inset_left.py -->
<path d="M185.3 747.3C184.1 748.7 179.9 752.8 178 756C176.1 759.2 175.1 762.5 173.6 766.2C172.2 769.8 170.1 774.4 169.3 777.8C168.4 781.2 168.2 783.2 168.5 786.5C168.9 789.9 170.7 793.8 171.5 798.2C172.2 802.5 172.3 807.4 172.9 812.7C173.5 818.1 174.5 823.9 175.1 830.2C175.7 836.5 176.4 844.2 176.5 850.5C176.7 856.8 175.8 862.2 175.8 868C175.8 873.8 176.1 880.1 176.5 885.5C177 890.8 178.4 897.6 178.7 900" fill="none" stroke="#141414" stroke-width="1.68"/>
<path d="M188.2 751.6C187.5 752.8 184.7 756.2 183.8 758.9C183 761.6 183.2 766.2 183.1 767.6" fill="none" stroke="#141414" stroke-width="1.46"/>
<path d="M175.1 757.5 L177.3 769.1 L181.6 773" fill="none" stroke="#141414" stroke-width="1.46"/>
<path d="M169.3 782.9 L177.3 785.1 L178 790.2 L171.5 788" fill="none" stroke="#141414" stroke-width="1.34"/>
<path d="M183.1 767.6C185.4 765.8 202.8 756.4 205.6 755.3C208.5 754.1 210.4 755.5 211.5 756C212.5 756.5 215.2 759.3 215.8 760.4C216.4 761.4 217.3 764.4 217.3 766.2C217.3 767.9 216.4 775.6 215.8 777.8C215.2 780 212.2 786.7 211.5 788C210.7 789.3 211.3 789.2 208.5 790.9C205.8 792.6 186.5 804 183.8 804.7C181.1 805.5 181.9 800.3 181.6 798.2C181.3 796.1 180.9 786.1 180.9 783.6C181 781.2 181.9 775.1 182.1 773.5C182.3 771.9 180.7 769.5 183.1 767.6Z" fill="#fff" stroke="#141414" stroke-width="1.79"/>
<path d="M202.7 756.9 L178 769.8 L181.6 773.5" fill="none" stroke="#141414" stroke-width="1.46"/>
<ellipse cx="202.3" cy="776.4" rx="4.9" ry="7.1" transform="rotate(28 202.3 776.4)" fill="#fff" stroke="#141414" stroke-width="1.68"/>
<path d="M217.3 751.6C217.8 753.3 220.1 757.7 220.2 761.8C220.3 765.9 218.5 770.3 218 776.4C217.5 782.4 217.5 790.9 217.3 798.2C217 805.5 216.5 812.7 216.5 820C216.5 827.3 216.7 835.8 217.3 841.8C217.9 847.9 218.7 851.5 220.2 856.4C221.6 861.2 223.8 866.1 226 870.9C228.2 875.8 230.8 880.6 233.3 885.5C235.7 890.3 239.1 896 240.5 900C242 904 241.6 907.9 241.9 909.5" fill="none" stroke="#141414" stroke-width="1.9"/>
<path d="M178.7 801.8C179.1 802.2 180.4 802.2 180.9 804C181.4 805.8 180.9 809.8 181.6 812.7C182.4 815.6 183.7 818.5 185.3 821.5C186.8 824.4 189.4 826.8 191.1 830.2C192.8 833.6 194.4 837.5 195.5 841.8C196.5 846.2 197.5 851.5 197.6 856.4C197.8 861.2 197.3 866.1 196.2 870.9C195.1 875.8 192.8 880.6 191.1 885.5C189.4 890.3 186.8 897.6 186 900" fill="none" stroke="#141414" stroke-width="1.46"/>
<path d="M184.5 814.2C185.6 815.9 189 821.2 191.1 824.4C193.2 827.5 195.5 829.7 196.9 833.1C198.4 836.5 199 840.8 199.8 844.7C200.7 848.6 201.5 852.5 202 856.4C202.5 860.2 203.3 864.1 202.7 868C202.1 871.9 200.1 875.3 198.4 879.6C196.7 884 193.9 890.8 192.5 894.2C191.2 897.6 190.7 899 190.4 900" fill="none" stroke="#141414" stroke-width="1.46"/>
<path d="M179.5 804C179.6 805.9 179 811.8 180.2 815.6C181.4 819.5 184.7 823.4 186.7 827.3C188.8 831.2 191.2 834.5 192.5 838.9C193.9 843.3 194.5 848.6 194.7 853.5C195 858.3 195.1 862.7 194 868C192.9 873.3 189.9 880.1 188.2 885.5C186.5 890.8 184.5 897.6 183.8 900" fill="none" stroke="#141414" stroke-width="1.34"/>
<path d="M173.6 821.5 L188.2 829.5" fill="none" stroke="#141414" stroke-width="1.34"/>
<path d="M201.3 796C201 796.8 201 799 199.8 801.1C198.6 803.2 195.2 805.7 194 808.4C192.8 811 192.3 814.2 192.5 817.1C192.8 820 195 824.4 195.5 825.8" fill="none" stroke="#141414" stroke-width="1.46"/>
<path d="M185.3 814.2 L215.8 796" fill="none" stroke="#141414" stroke-width="1.34"/>
<path d="M197.6 825.8 L216.1 808.4" fill="none" stroke="#141414" stroke-width="1.34"/>
<!-- p62_inset_right.py -->
<path d="M316.8 732.7C317 733.9 317.4 736.6 318 740C318.6 743.4 319.5 748.5 320.2 753.1C320.9 757.7 321 763.3 322.4 767.6C323.7 772 326.2 775.4 328.2 779.3C330.1 783.2 332.2 787 334 790.9C335.8 794.8 337.5 798.7 339.1 802.5C340.7 806.4 342.2 810.5 343.5 814.2C344.7 817.8 345.6 821.2 346.4 824.4C347.1 827.5 347.6 831.6 347.8 833.1" fill="none" stroke="#333" stroke-width="2.24"/>
<path d="M318 793.8C319.2 796.7 323.3 806.2 325.3 811.3C327.2 816.4 328.5 820.6 329.6 824.4C330.8 828.1 331.8 832.2 332.3 833.8" fill="none" stroke="#141414" stroke-width="1.34"/>
<path d="M270 754.5C271 757 274.4 765.9 275.8 769.1C277.3 772.2 277 772.5 278.7 773.5C280.4 774.4 283.8 773.7 286 774.9C288.2 776.1 289.6 777.3 291.8 780.7C294 784.1 296.4 789.5 299.1 795.3C301.8 801.1 305.4 809.1 307.8 815.6C310.2 822.2 312.2 828.7 313.6 834.5C315.1 840.4 316.1 847.9 316.5 850.5" fill="none" stroke="#141414" stroke-width="1.57"/>
<path d="M281.6 782.2C283.1 784.8 287.5 792.1 290.4 798.2C293.3 804.2 296.7 812.5 299.1 818.5C301.5 824.6 303.5 829.7 304.9 834.5C306.4 839.4 307.2 843.3 307.8 847.6C308.4 852 308.4 858.5 308.5 860.7" fill="none" stroke="#141414" stroke-width="2.46"/>
<path d="M286 783.6C287.7 786.8 293.3 796.2 296.2 802.5C299.1 808.8 301.5 815.4 303.5 821.5C305.4 827.5 306.8 834.1 307.8 838.9C308.8 843.8 309.3 848.6 309.6 850.5" fill="none" stroke="#141414" stroke-width="1.34"/>
<path d="M272.9 772.7C273.6 773.6 275.6 776.7 277.3 777.8C279 778.9 281.6 779.6 283.1 779.3C284.5 778.9 285.5 776.2 286 775.6" fill="none" stroke="#141414" stroke-width="1.57"/>
<path d="M300.5 849.1C300.9 848.4 302 845.6 302.7 844.7C303.5 843.9 304.3 843 304.9 844C305.5 845 306.1 849.5 306.4 850.5" fill="none" stroke="#141414" stroke-width="1.46"/>
<path d="M300.5 849.1C300.5 851.8 300.4 860 300.5 865.1C300.7 870.2 300.7 876.6 301.3 879.6C301.9 882.7 303.8 881.3 304.2 883.3C304.5 885.2 304.8 888.7 303.5 891.3C302.1 893.8 297.4 897.3 296.2 898.5" fill="none" stroke="#141414" stroke-width="1.79"/>
<path d="M302.7 865.4 L304.9 863.6 L312.2 863.6" fill="none" stroke="#141414" stroke-width="1.46"/>
<path d="M302.7 865.4 L304.9 870.2 L311.5 869.5" fill="none" stroke="#141414" stroke-width="1.46"/>
<ellipse cx="333.6" cy="859.6" rx="18.6" ry="29.1" transform="rotate(34 333.6 859.6)" fill="#fff" stroke="#141414" stroke-width="1.34"/>
<ellipse cx="335" cy="859.3" rx="18.9" ry="28.8" transform="rotate(34 335 859.3)" fill="#fff" stroke="#141414" stroke-width="1.68"/>
<ellipse cx="334" cy="860" rx="5.2" ry="8.4" transform="rotate(30 334 860)" fill="#fff" stroke="#141414" stroke-width="1.68"/>
<path d="M309.3 885.5C309.5 886.9 310.2 891.8 310.7 894.2C311.3 896.6 312.2 899 312.5 900" fill="none" stroke="#141414" stroke-width="1.68"/>
<path d="M307.8 894.2 L328.2 886.2" fill="none" stroke="#141414" stroke-width="1.34"/>
<path d="M332.5 885.5 L332.5 898.5" fill="none" stroke="#141414" stroke-width="1.34"/>
<path d="M347.8 870.9 L347.1 900" fill="none" stroke="#141414" stroke-width="1.57"/>
<ellipse cx="284.5" cy="836.7" rx="12.8" ry="17.2" transform="rotate(18 284.5 836.7)" fill="#fff" stroke="#141414" stroke-width="2.02"/>
<ellipse cx="285.7" cy="836.7" rx="6.4" ry="9.6" transform="rotate(18 285.7 836.7)" fill="#fff" stroke="#141414" stroke-width="1.68"/>
<path d="M355.1 878.2C354.8 876 355.9 873.8 357.3 872.4C358.6 870.9 360.9 869.6 363.1 869.5C365.3 869.3 368.4 870.5 370.4 871.6C372.3 872.7 373.9 874.2 374.7 876C375.6 877.8 375.9 880.6 375.5 882.5C375 884.5 373.4 886.7 371.8 887.6C370.2 888.6 368.2 888.7 366 888.4C363.8 888 360.5 887.2 358.7 885.5C356.9 883.8 355.3 880.4 355.1 878.2Z" fill="#fff" stroke="#141414" stroke-width="1.68"/>
<ellipse cx="370.1" cy="880.4" rx="4.9" ry="7.3" transform="rotate(15 370.1 880.4)" fill="#fff" stroke="#141414" stroke-width="1.68"/>
<path d="M366.7 884C366.6 883.3 365.6 881.1 366 879.6C366.4 878.2 368.4 876 368.9 875.3" fill="none" stroke="#141414" stroke-width="1.34"/>
<line x1="371.1" y1="870.9" x2="379.8" y2="862.2" stroke="#777" stroke-width="0.9"/>
<line x1="399.5" y1="888.4" x2="407.5" y2="878.9" stroke="#777" stroke-width="0.9"/>
<line x1="330.4" y1="775.6" x2="352.9" y2="758.9" stroke="#777" stroke-width="0.9"/>
<!-- p63_inset_low.py -->
<path d="M178.6 899.3C178.6 904.3 179 921.9 178.9 929.1C178.8 936.2 178.9 938.6 178.1 942.2C177.3 945.7 176.9 947.4 174 950.4C171.1 953.4 165.5 956.8 160.9 960.2C156.3 963.6 150 967.5 146.2 970.8C142.4 974.1 140 976.4 138 979.8C136 983.2 135 988 133.9 991.3C132.8 994.5 131.5 997.3 131.5 999.5C131.5 1001.6 132.3 1003 133.9 1004.4C135.5 1005.7 138.5 1006.7 141.3 1007.6C144 1008.6 148.8 1009.7 150.3 1010.1" fill="none" stroke="#141414" stroke-width="1.79"/>
<path d="M185.5 899.6C184.8 903.2 181.9 914.9 181.4 920.9C180.8 926.9 181.4 931.3 182.2 935.6C183 940 187.6 943.5 186.3 947.1C184.9 950.6 178.5 953.4 174 956.9C169.5 960.5 163.6 964.8 159.3 968.4C154.9 971.9 150.7 974.9 147.8 978.2C145 981.5 143.7 985.3 142.1 988C140.5 990.7 139.1 992.6 138 994.5C136.9 996.5 135.8 998 135.5 999.5C135.3 1001 135.4 1002.5 136.4 1003.5C137.3 1004.6 140.5 1005.6 141.3 1006" fill="none" stroke="#141414" stroke-width="1.46"/>
<path d="M189.5 898C188.7 901.8 185.3 914.4 184.6 920.9C184 927.5 185 933 185.5 937.3C185.9 941.5 186.8 944.8 187.1 946.3" fill="none" stroke="#141414" stroke-width="1.46"/>
<path d="M196.9 883.3C196.1 885 192.1 894 191.2 896.4C190.3 898.8 190 900.2 190.4 901.3C190.7 902.4 191.7 904.4 193.6 904.5C195.6 904.7 201.8 902.9 205.1 902.1C208.4 901.3 215.9 898.9 218.2 898.8C220.5 898.7 221.2 899.9 222.3 901.3C223.4 902.7 225.3 907.4 226.4 909.5C227.5 911.5 229.9 915.8 230.5 916.8" fill="none" stroke="#141414" stroke-width="1.46"/>
<path d="M187.1 947.1C189 946 195 943 198.5 940.5C202.1 938.1 205.5 935 208.4 932.4C211.2 929.8 214.5 926.2 215.7 925" fill="none" stroke="#141414" stroke-width="1.57"/>
<path d="M215.7 925 L226.4 920.1 L241.9 909.5 L261.1 919.6" fill="none" stroke="#141414" stroke-width="1.57"/>
<path d="M215.7 925.8 L215.4 952 L218.2 956.1" fill="none" stroke="#141414" stroke-width="1.46"/>
<path d="M216.5 926.6 L237.8 937.3" fill="none" stroke="#141414" stroke-width="1.46"/>
<path d="M215.7 943 L219.8 945.5 L237 952.3" fill="none" stroke="#141414" stroke-width="1.34"/>
<path d="M150.3 1010.1C153.4 1010 162.7 1010.1 169.1 1009.3C175.5 1008.5 182.5 1007 188.7 1005.2C195 1003.4 201.3 1001 206.7 998.6C212.2 996.3 216.8 993.9 221.5 991.3C226.1 988.7 230.7 985.7 234.5 983.1C238.4 980.5 241.9 977.4 244.4 975.7C246.9 974 248.7 973.4 249.6 972.9" fill="none" stroke="#141414" stroke-width="1.68"/>
<path d="M141.3 1006 L144.5 997.8 L218.2 956.1" fill="none" stroke="#141414" stroke-width="1.46"/>
<path d="M151.9 1009.3 L152.7 1001.9 L157.6 997 L228.8 956.9" fill="none" stroke="#141414" stroke-width="1.34"/>
<path d="M138 994.5 L139.6 1006" fill="none" stroke="#141414" stroke-width="1.23"/>
<line x1="229.3" y1="956.9" x2="230" y2="984.7" stroke="#444" stroke-width="1.23"/>
<line x1="231.6" y1="955.6" x2="232.3" y2="983.4" stroke="#666" stroke-width="1.12"/>
<path d="M237 942.2 L237 961.8" fill="none" stroke="#141414" stroke-width="1.57"/>
<path d="M237 961.8C238 963.2 239.9 968 242.7 970C245.6 972 250.9 973.3 254.2 974.1C257.5 974.9 261 974.8 262.4 974.9" fill="none" stroke="#141414" stroke-width="1.68"/>
<path d="M262.4 952 L262.4 974.9" fill="none" stroke="#141414" stroke-width="1.46"/>
<ellipse cx="245.2" cy="952" rx="4.6" ry="9" transform="rotate(-10 245.2 952)" fill="#fff" stroke="#141414" stroke-width="2.24"/>
<path d="M240.3 937.3C241 938.6 241.2 943.2 244.4 945.5C247.5 947.7 253.9 950.3 259.1 950.7C264.3 951.1 271.4 949.8 275.5 948.1C279.5 946.4 281.9 941.8 283.1 940.5" fill="none" stroke="#141414" stroke-width="1.79"/>
<ellipse cx="261.5" cy="935.6" rx="21.3" ry="13.1" transform="rotate(2 261.5 935.6)" fill="#fff" stroke="#141414" stroke-width="1.79"/>
<ellipse cx="262.4" cy="934.8" rx="11.8" ry="7.5" transform="rotate(2 262.4 934.8)" fill="#fff" stroke="#141414" stroke-width="1.79"/>
<path d="M282.8 934 L288.5 936.5" fill="none" stroke="#141414" stroke-width="1.34"/>
<path d="M264 952 L283.6 961.8 L281.2 965.1 L263.2 956.9" fill="none" stroke="#141414" stroke-width="1.34"/>
<path d="M264 971.6 L266.5 976.5 L273.8 978.2" fill="none" stroke="#141414" stroke-width="1.34"/>
<line x1="260.4" y1="976.5" x2="260.4" y2="1060" stroke="#888" stroke-width="0.9" stroke-dasharray="5 2"/>
<path d="M300 893.9C299.2 894.9 296.3 896.5 295.1 899.6C293.9 902.8 293.5 907.8 292.6 912.7C291.8 917.6 290.9 925.1 290.2 929.1C289.5 933 289.4 932.9 288.5 936.5C287.7 940 286.9 945.3 285.3 950.4C283.6 955.4 280.6 962.1 278.7 966.7C276.8 971.4 274.6 976.3 273.8 978.2" fill="none" stroke="#141414" stroke-width="1.57"/>
<path d="M300 956.9C297.3 959.4 289.1 966.7 283.6 971.6C278.2 976.5 271.6 982.8 267.3 986.4C262.9 989.9 259.6 991 257.5 992.9C255.3 994.8 256.4 995.6 254.2 997.8C252 1000 248.2 1003 244.4 1006C240.5 1009 235.6 1012.3 231.3 1015.8C226.9 1019.4 221.3 1023.7 218.2 1027.3C215 1030.8 213.9 1033.8 212.5 1037.1C211 1040.4 209.9 1044.5 209.7 1046.9C209.4 1049.4 209.9 1050.3 210.8 1051.8C211.7 1053.3 214.2 1055.2 214.9 1055.9" fill="none" stroke="#141414" stroke-width="2.24"/>
<path d="M300 961.8C297.3 964.3 288.5 972.2 283.6 976.5C278.7 980.9 274.1 984.5 270.5 988C267 991.5 265.9 994.3 262.4 997.8C258.8 1001.4 253.9 1005.7 249.3 1009.3C244.6 1012.8 238.9 1015.8 234.5 1019.1C230.2 1022.4 226 1025.6 223.1 1028.9C220.2 1032.2 218.9 1035.5 217.4 1038.7C215.8 1042 214.1 1046.1 213.6 1048.5C213.1 1051 214.1 1052.6 214.3 1053.5" fill="none" stroke="#141414" stroke-width="1.46"/>
<path d="M214.9 1055.9C218.2 1055.6 228 1055.2 234.5 1054.3C241.1 1053.3 248.2 1051.7 254.2 1050.2C260.2 1048.7 265.1 1047.2 270.5 1045.3C276 1043.4 282 1040.9 286.9 1038.7C291.8 1036.5 297.8 1033.3 300 1032.2" fill="none" stroke="#141414" stroke-width="1.79"/>
<path d="M270.5 1044.5C272.2 1041.6 276.8 1032.9 280.4 1027.3C283.9 1021.7 288.5 1015 291.8 1010.9C295.1 1006.8 298.6 1004.1 300 1002.7" fill="none" stroke="#141414" stroke-width="1.34"/>
<path d="M304 880C303.8 881.7 304 887.4 303 890C302 892.6 298.8 894.7 298 895.6" fill="none" stroke="#141414" stroke-width="1.46"/>
<path d="M310 880C310.3 883.3 311.2 893.3 312 900C312.8 906.7 314.8 913.7 315 920C315.2 926.3 314.5 932.7 313 938C311.5 943.3 308.2 948.6 306 952C303.8 955.4 301 957.3 300 958.4" fill="none" stroke="#141414" stroke-width="2.02"/>
<path d="M298 896 L314 906 L348 890" fill="none" stroke="#141414" stroke-width="1.46"/>
<path d="M316 892 L334 885" fill="none" stroke="#141414" stroke-width="1.34"/>
<path d="M333 886C333.2 892.7 334.5 916 334 926C333.5 936 332 940.3 330 946C328 951.7 324 956.7 322 960C320 963.3 318.7 965 318 966" fill="none" stroke="#141414" stroke-width="1.34"/>
<path d="M348 880C348 886.7 348.7 910.3 348 920C347.3 929.7 346.3 932.7 344 938C341.7 943.3 337.3 948 334 952C330.7 956 326.5 959.3 324 962C321.5 964.7 320.2 965.3 319 968C317.8 970.7 317 974.5 317 978C317 981.5 318.7 987.2 319 989" fill="none" stroke="#141414" stroke-width="1.68"/>
<path d="M319 966C317.5 967.3 312.3 970.7 310 974C307.7 977.3 306.1 981.7 305 986C303.9 990.3 303.8 997.7 303.6 1000" fill="none" stroke="#141414" stroke-width="1.46"/>
<path d="M320.8 980.8 L333.8 975.8 L346.4 986" fill="none" stroke="#141414" stroke-width="1.57"/>
<path d="M319 989 L328.4 985.6" fill="none" stroke="#141414" stroke-width="1.46"/>
<path d="M327 989C325.8 990.8 321 996.5 320 1000C319 1003.5 319.8 1007.3 321 1010C322.2 1012.7 324.8 1014.7 327 1016C329.2 1017.3 332.8 1017.7 334 1018" fill="none" stroke="#141414" stroke-width="1.68"/>
<ellipse cx="338" cy="1002.4" rx="10.4" ry="16" transform="rotate(22 338 1002.4)" fill="#fff" stroke="#141414" stroke-width="1.46"/>
<ellipse cx="340.4" cy="1003" rx="10.4" ry="16" transform="rotate(22 340.4 1003)" fill="#fff" stroke="#141414" stroke-width="1.79"/>
<ellipse cx="340.4" cy="1004" rx="4" ry="4.8" transform="rotate(20 340.4 1004)" fill="#fff" stroke="#141414" stroke-width="1.57"/>
<path d="M303.6 1000 L326 989.4" fill="none" stroke="#141414" stroke-width="1.34"/>
<path d="M303.6 1000C301.3 1002.7 294.6 1010.3 290 1016C285.4 1021.7 279.5 1029 276 1034C272.5 1039 270.2 1044 269 1046" fill="none" stroke="#141414" stroke-width="1.46"/>
<path d="M269 1046C274.2 1043.4 290.3 1035.3 300 1030.4C309.7 1025.5 322.5 1018.7 327 1016.4" fill="none" stroke="#141414" stroke-width="1.68"/>
<path d="M250 1051.6 L269 1046" fill="none" stroke="#141414" stroke-width="1.68"/>
<line x1="260.4" y1="976" x2="260.4" y2="1070" stroke="#888" stroke-width="0.9" stroke-dasharray="5 2"/>
<path d="M251.6 1067.6 L251.6 1084" fill="none" stroke="#141414" stroke-width="1.68"/>
<path d="M276.8 1067.6 L276.8 1084" fill="none" stroke="#141414" stroke-width="1.68"/>
<path d="M251.6 1084C252.5 1085 254.9 1088.7 257 1090C259.1 1091.3 261.7 1092 264 1092C266.3 1092 268.9 1091.3 271 1090C273.1 1088.7 275.8 1085 276.8 1084" fill="none" stroke="#141414" stroke-width="1.68"/>
<ellipse cx="264.2" cy="1067.6" rx="12.6" ry="7.4" fill="#fff" stroke="#141414" stroke-width="1.79"/>
<path d="M254.4 1069C255 1069.8 256.2 1072.6 258 1073.6C259.8 1074.6 262.7 1075.1 265 1075C267.3 1074.9 270.4 1073.9 272 1073C273.6 1072.1 274 1070.2 274.4 1069.6" fill="none" stroke="#141414" stroke-width="1.34"/>
<path d="M258 1063 L258 1073" fill="none" stroke="#141414" stroke-width="1.23"/>
<line x1="281" y1="1075.6" x2="308" y2="1069" stroke="#777" stroke-width="0.9"/>
<path d="M381 890 L386 887 L394 891 L406 897 L408 902 L404 908 L399 909 L390 904 L382 897Z" fill="#fff" stroke="#141414" stroke-width="1.68"/>
<ellipse cx="403.2" cy="902.4" rx="3.8" ry="6" transform="rotate(20 403.2 902.4)" fill="#222" stroke="#141414" stroke-width="1.12"/>
<ellipse cx="383.6" cy="892.4" rx="2.4" ry="4.4" transform="rotate(20 383.6 892.4)" fill="#fff" stroke="#141414" stroke-width="1.46"/>
<path d="M393 891 L390 903.6" fill="none" stroke="#141414" stroke-width="1.46"/>
<!-- p00_labels.py -->
<text transform="translate(358.7 93.4) scale(0.812 1)" font-size="20.5" text-anchor="start">20</text>
<text transform="translate(314.3 142.1) scale(0.812 1)" font-size="20.5" text-anchor="start">11</text>
<text transform="translate(292.5 184.3) scale(0.812 1)" font-size="20.5" text-anchor="start">12</text>
<text transform="translate(289.6 239.6) scale(0.812 1)" font-size="20.5" text-anchor="start">9</text>
<text transform="translate(232.5 268.6) scale(0.812 1)" font-size="20.5" text-anchor="start">8</text>
<text transform="translate(269.6 312.3) scale(0.812 1)" font-size="20.5" text-anchor="start">10</text>
<text transform="translate(416.5 238.5) scale(0.812 1)" font-size="20.5" text-anchor="start">6</text>
<text transform="translate(523.4 131.2) scale(0.812 1)" font-size="20.5" text-anchor="start">18</text>
<text transform="translate(575.3 165.1) scale(0.812 1)" font-size="20.5" text-anchor="start">7</text>
<text transform="translate(475.3 286.8) scale(0.812 1)" font-size="20.5" text-anchor="start">22</text>
<text transform="translate(402.7 334.9) scale(0.812 1)" font-size="20.5" text-anchor="start">21</text>
<text transform="translate(469.6 366.6) scale(0.812 1)" font-size="20.5" text-anchor="start">3</text>
<text transform="translate(583.3 225.8) scale(0.812 1)" font-size="20.5" text-anchor="start">16</text>
<text transform="translate(657.8 19.6) scale(0.812 1)" font-size="20.5" text-anchor="start">17</text>
<text transform="translate(794.2 23.6) scale(0.812 1)" font-size="20.5" text-anchor="start">24</text>
<text transform="translate(706.9 45.8) scale(0.812 1)" font-size="20.5" text-anchor="start">13</text>
<text transform="translate(666.9 66.9) scale(0.812 1)" font-size="20.5" text-anchor="start">15</text>
<text transform="translate(738.9 153.4) scale(0.812 1)" font-size="20.5" text-anchor="start">25</text>
<text transform="translate(721.4 176.7) scale(0.812 1)" font-size="20.5" text-anchor="start">19</text>
<text transform="translate(739.6 211.6) scale(0.812 1)" font-size="20.5" text-anchor="start">23</text>
<text transform="translate(708 255.2) scale(0.812 1)" font-size="20.5" text-anchor="start">22</text>
<text transform="translate(848.1 258.5) scale(0.812 1)" font-size="20.5" text-anchor="start">26</text>
<text transform="translate(817.8 384.8) scale(0.812 1)" font-size="20.5" text-anchor="start">32</text>
<text transform="translate(616.2 521.3) scale(0.812 1)" font-size="20.5" text-anchor="start">14</text>
<text transform="translate(972 404.5) scale(0.812 1)" font-size="20.5" text-anchor="start">6</text>
<text transform="translate(771.6 443.1) scale(0.812 1)" font-size="20.5" text-anchor="start">5</text>
<text transform="translate(947.4 539.6) scale(0.812 1)" font-size="20.5" text-anchor="start">9</text>
<text transform="translate(889.1 601.6) scale(0.812 1)" font-size="20.5" text-anchor="start">10</text>
<text transform="translate(933.1 623.2) scale(0.812 1)" font-size="20.5" text-anchor="start">8</text>
<text transform="translate(746.8 603) scale(0.812 1)" font-size="20.5" text-anchor="start">1</text>
<text transform="translate(647.9 779.7) scale(0.812 1)" font-size="20.5" text-anchor="start">2</text>
<text transform="translate(356.5 754) scale(0.812 1)" font-size="20.5" text-anchor="start">27</text>
<text transform="translate(242.3 849.6) scale(0.812 1)" font-size="20.5" text-anchor="start">30</text>
<text transform="translate(384.5 853.2) scale(0.812 1)" font-size="20.5" text-anchor="start">29</text>
<text transform="translate(407.1 872.5) scale(0.812 1)" font-size="20.5" text-anchor="start">28</text>
<text transform="translate(312.5 1077.1) scale(0.812 1)" font-size="20.5" text-anchor="start">31</text>
<text transform="translate(865.9 1010.3) scale(0.812 1)" font-size="20.5" text-anchor="start">21190</text>
<text transform="translate(405.5 428) scale(0.812 1)" font-size="20.5" text-anchor="start">4</text>
<rect x="114.5" y="667.5" width="312" height="432" fill="none" stroke="#969696" stroke-width="1.1"/>
</svg></body></html>
